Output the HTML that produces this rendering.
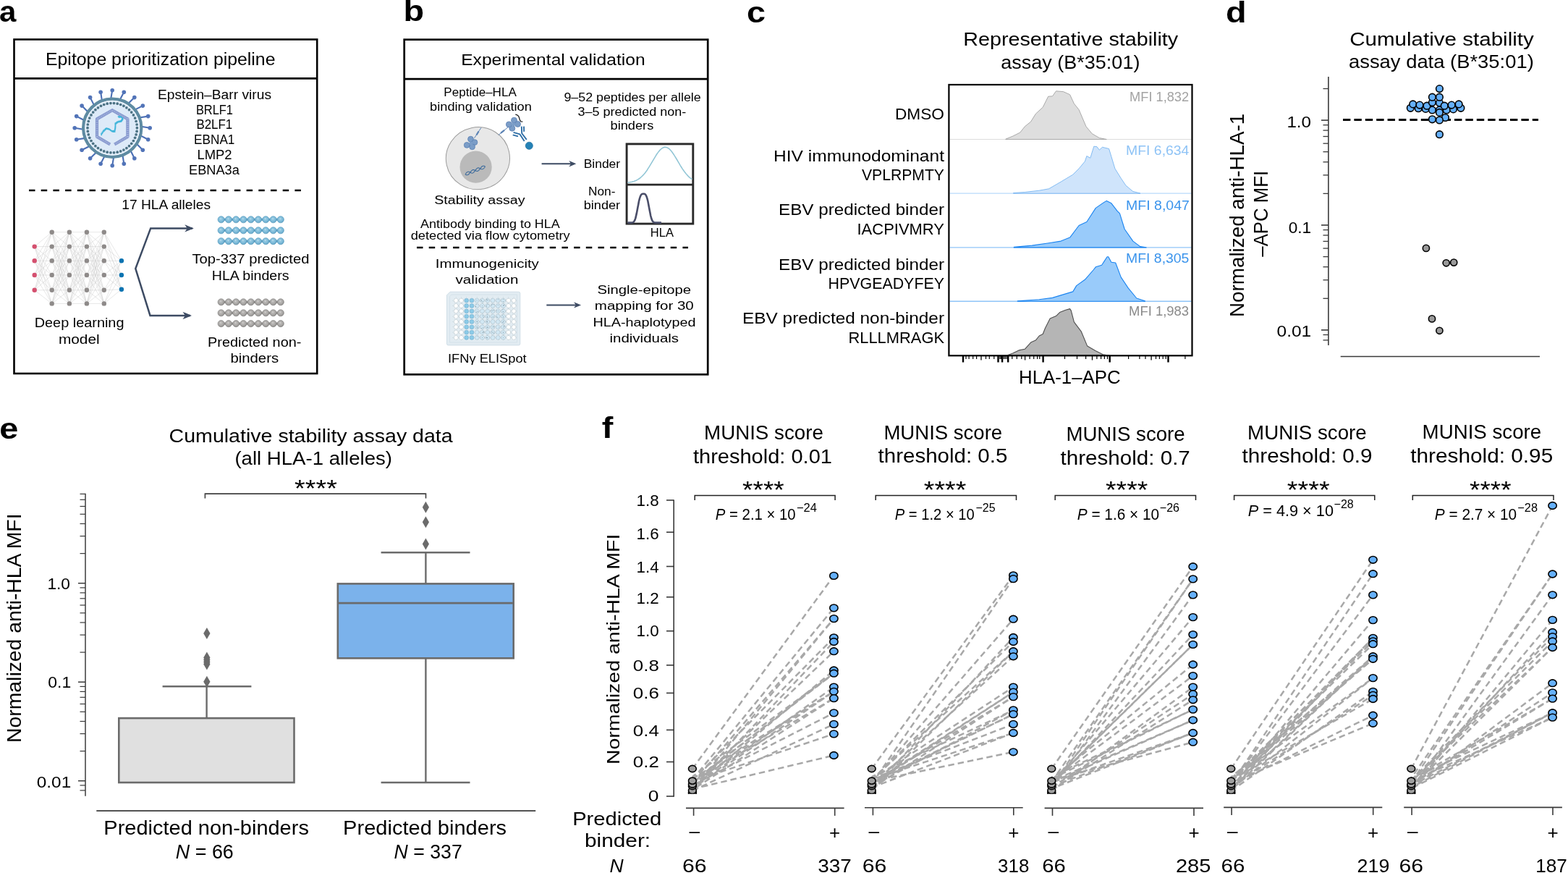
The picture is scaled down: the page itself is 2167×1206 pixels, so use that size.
<!DOCTYPE html>
<html><head><meta charset="utf-8"><title>Figure</title>
<style>
html,body{margin:0;padding:0;background:#fff;}
body{width:2167px;height:1206px;overflow:hidden;}
svg{display:block;}
svg text{font-family:'Liberation Sans', Arial, sans-serif;}
</style></head>
<body>
<svg width="2167" height="1206" viewBox="0 0 2167 1206">
<rect width="2167" height="1206" fill="#fff"/>
<text x="0" y="0" font-size="40" font-weight="bold" transform="translate(-1.0 29.5) scale(1.05 1)">a</text>
<rect x="19.5" y="54.5" width="418.7" height="461.5" fill="none" stroke="#000" stroke-width="2.6"/>
<line x1="19.5" y1="108.4" x2="438.2" y2="108.4" stroke="#000" stroke-width="2.8"/>
<text x="63.0" y="90.0" font-size="23.5" textLength="317.5" lengthAdjust="spacingAndGlyphs">Epitope prioritization pipeline</text>
<g>
<line x1="153.2" y1="136.7" x2="155.2" y2="124.7" stroke="#4b6fb5" stroke-width="2.1"/>
<circle cx="155.2" cy="124.7" r="2.8" fill="#5274b8"/>
<line x1="165.6" y1="138.1" x2="171.3" y2="127.2" stroke="#4b6fb5" stroke-width="2.1"/>
<circle cx="171.3" cy="127.2" r="2.8" fill="#5274b8"/>
<line x1="177.1" y1="143.2" x2="185.8" y2="134.6" stroke="#4b6fb5" stroke-width="2.1"/>
<circle cx="185.8" cy="134.6" r="2.8" fill="#5274b8"/>
<line x1="186.3" y1="151.6" x2="197.3" y2="146.1" stroke="#4b6fb5" stroke-width="2.1"/>
<circle cx="197.3" cy="146.1" r="2.8" fill="#5274b8"/>
<line x1="192.6" y1="162.5" x2="204.7" y2="160.6" stroke="#4b6fb5" stroke-width="2.1"/>
<circle cx="204.7" cy="160.6" r="2.8" fill="#5274b8"/>
<line x1="195.2" y1="174.7" x2="207.2" y2="176.7" stroke="#4b6fb5" stroke-width="2.1"/>
<circle cx="207.2" cy="176.7" r="2.8" fill="#5274b8"/>
<line x1="193.8" y1="187.1" x2="204.7" y2="192.8" stroke="#4b6fb5" stroke-width="2.1"/>
<circle cx="204.7" cy="192.8" r="2.8" fill="#5274b8"/>
<line x1="188.7" y1="198.6" x2="197.3" y2="207.3" stroke="#4b6fb5" stroke-width="2.1"/>
<circle cx="197.3" cy="207.3" r="2.8" fill="#5274b8"/>
<line x1="180.3" y1="207.8" x2="185.8" y2="218.8" stroke="#4b6fb5" stroke-width="2.1"/>
<circle cx="185.8" cy="218.8" r="2.8" fill="#5274b8"/>
<line x1="169.4" y1="214.1" x2="171.3" y2="226.2" stroke="#4b6fb5" stroke-width="2.1"/>
<circle cx="171.3" cy="226.2" r="2.8" fill="#5274b8"/>
<line x1="157.2" y1="216.7" x2="155.2" y2="228.7" stroke="#4b6fb5" stroke-width="2.1"/>
<circle cx="155.2" cy="228.7" r="2.8" fill="#5274b8"/>
<line x1="144.8" y1="215.3" x2="139.1" y2="226.2" stroke="#4b6fb5" stroke-width="2.1"/>
<circle cx="139.1" cy="226.2" r="2.8" fill="#5274b8"/>
<line x1="133.3" y1="210.2" x2="124.6" y2="218.8" stroke="#4b6fb5" stroke-width="2.1"/>
<circle cx="124.6" cy="218.8" r="2.8" fill="#5274b8"/>
<line x1="124.1" y1="201.8" x2="113.1" y2="207.3" stroke="#4b6fb5" stroke-width="2.1"/>
<circle cx="113.1" cy="207.3" r="2.8" fill="#5274b8"/>
<line x1="117.8" y1="190.9" x2="105.7" y2="192.8" stroke="#4b6fb5" stroke-width="2.1"/>
<circle cx="105.7" cy="192.8" r="2.8" fill="#5274b8"/>
<line x1="115.2" y1="178.7" x2="103.2" y2="176.7" stroke="#4b6fb5" stroke-width="2.1"/>
<circle cx="103.2" cy="176.7" r="2.8" fill="#5274b8"/>
<line x1="116.6" y1="166.3" x2="105.7" y2="160.6" stroke="#4b6fb5" stroke-width="2.1"/>
<circle cx="105.7" cy="160.6" r="2.8" fill="#5274b8"/>
<line x1="121.7" y1="154.8" x2="113.1" y2="146.1" stroke="#4b6fb5" stroke-width="2.1"/>
<circle cx="113.1" cy="146.1" r="2.8" fill="#5274b8"/>
<line x1="130.1" y1="145.6" x2="124.6" y2="134.6" stroke="#4b6fb5" stroke-width="2.1"/>
<circle cx="124.6" cy="134.6" r="2.8" fill="#5274b8"/>
<line x1="141.0" y1="139.3" x2="139.1" y2="127.2" stroke="#4b6fb5" stroke-width="2.1"/>
<circle cx="139.1" cy="127.2" r="2.8" fill="#5274b8"/>
<circle cx="155.2" cy="176.7" r="40.0" fill="#ddeaf8" stroke="#5e8ba2" stroke-width="4.4"/>
<circle cx="155.2" cy="176.7" r="37.6" fill="none" stroke="#f4f8fc" stroke-width="1.0"/>
<circle cx="189.4" cy="176.7" r="1.85" fill="#4b7183"/>
<circle cx="189.1" cy="181.4" r="1.85" fill="#4b7183"/>
<circle cx="188.1" cy="185.9" r="1.85" fill="#4b7183"/>
<circle cx="186.6" cy="190.3" r="1.85" fill="#4b7183"/>
<circle cx="184.4" cy="194.5" r="1.85" fill="#4b7183"/>
<circle cx="181.7" cy="198.3" r="1.85" fill="#4b7183"/>
<circle cx="178.5" cy="201.7" r="1.85" fill="#4b7183"/>
<circle cx="174.9" cy="204.6" r="1.85" fill="#4b7183"/>
<circle cx="170.9" cy="207.1" r="1.85" fill="#4b7183"/>
<circle cx="166.7" cy="208.9" r="1.85" fill="#4b7183"/>
<circle cx="162.2" cy="210.2" r="1.85" fill="#4b7183"/>
<circle cx="157.5" cy="210.8" r="1.85" fill="#4b7183"/>
<circle cx="152.9" cy="210.8" r="1.85" fill="#4b7183"/>
<circle cx="148.2" cy="210.2" r="1.85" fill="#4b7183"/>
<circle cx="143.7" cy="208.9" r="1.85" fill="#4b7183"/>
<circle cx="139.5" cy="207.1" r="1.85" fill="#4b7183"/>
<circle cx="135.5" cy="204.6" r="1.85" fill="#4b7183"/>
<circle cx="131.9" cy="201.7" r="1.85" fill="#4b7183"/>
<circle cx="128.7" cy="198.3" r="1.85" fill="#4b7183"/>
<circle cx="126.0" cy="194.5" r="1.85" fill="#4b7183"/>
<circle cx="123.8" cy="190.3" r="1.85" fill="#4b7183"/>
<circle cx="122.3" cy="185.9" r="1.85" fill="#4b7183"/>
<circle cx="121.3" cy="181.4" r="1.85" fill="#4b7183"/>
<circle cx="121.0" cy="176.7" r="1.85" fill="#4b7183"/>
<circle cx="121.3" cy="172.0" r="1.85" fill="#4b7183"/>
<circle cx="122.3" cy="167.5" r="1.85" fill="#4b7183"/>
<circle cx="123.8" cy="163.1" r="1.85" fill="#4b7183"/>
<circle cx="126.0" cy="158.9" r="1.85" fill="#4b7183"/>
<circle cx="128.7" cy="155.1" r="1.85" fill="#4b7183"/>
<circle cx="131.9" cy="151.7" r="1.85" fill="#4b7183"/>
<circle cx="135.5" cy="148.8" r="1.85" fill="#4b7183"/>
<circle cx="139.5" cy="146.3" r="1.85" fill="#4b7183"/>
<circle cx="143.7" cy="144.5" r="1.85" fill="#4b7183"/>
<circle cx="148.2" cy="143.2" r="1.85" fill="#4b7183"/>
<circle cx="152.9" cy="142.6" r="1.85" fill="#4b7183"/>
<circle cx="157.5" cy="142.6" r="1.85" fill="#4b7183"/>
<circle cx="162.2" cy="143.2" r="1.85" fill="#4b7183"/>
<circle cx="166.7" cy="144.5" r="1.85" fill="#4b7183"/>
<circle cx="170.9" cy="146.3" r="1.85" fill="#4b7183"/>
<circle cx="174.9" cy="148.8" r="1.85" fill="#4b7183"/>
<circle cx="178.5" cy="151.7" r="1.85" fill="#4b7183"/>
<circle cx="181.7" cy="155.1" r="1.85" fill="#4b7183"/>
<circle cx="184.4" cy="158.9" r="1.85" fill="#4b7183"/>
<circle cx="186.6" cy="163.1" r="1.85" fill="#4b7183"/>
<circle cx="188.1" cy="167.5" r="1.85" fill="#4b7183"/>
<circle cx="189.1" cy="172.0" r="1.85" fill="#4b7183"/>
<path d="M152.2,199.5 L134.0,188.9 L134.0,164.4 L155.2,152.2 L176.4,164.4 L176.4,188.9 L158.2,199.5" fill="none" stroke="#7f92cb" stroke-width="4.2" stroke-linejoin="round"/>
<path d="M152.2,199.5 L134.0,188.9 L134.0,164.4 L155.2,152.2 L176.4,164.4 L176.4,188.9 L158.2,199.5" fill="none" stroke="#c9d3ee" stroke-width="2.6" stroke-dasharray="0.6 1.0" opacity="0.8"/>
<path d="M139.5,186.5 L140.3,186.6 L140.0,184.3 L140.8,184.5 L141.6,184.5 L141.3,182.3 L142.1,182.4 L142.9,182.4 L142.6,180.2 L143.5,180.6 L144.4,180.9 L144.1,178.9 L145.0,179.3 L145.9,179.6 L145.6,177.6 L146.5,178.0 L147.4,178.2 L147.1,176.8 L148.0,177.8 L148.9,178.6 L148.6,177.2 L149.6,178.2 L150.4,179.0 L150.1,177.5 L151.1,178.6 L151.9,179.6 L151.6,178.4 L152.6,179.8 L153.3,180.7 L153.1,179.5 L154.1,180.9 L154.8,181.8 L154.6,180.7 L155.5,181.7 L156.2,182.2 L155.9,180.6 L156.8,181.7 L157.5,182.2 L157.2,180.6 L158.2,181.7 L158.8,182.2 L158.2,180.0 L158.9,180.3 L159.2,180.1 L158.6,177.9 L159.2,178.3 L159.6,178.0 L158.9,175.8 L159.6,176.2 L159.8,176.0 L159.1,173.9 L159.6,174.4 L159.8,174.1 L159.1,172.0 L159.6,172.5 L159.8,172.2 L159.1,170.1 L160.1,171.0 L160.7,171.0 L160.4,169.2 L161.4,170.0 L162.0,170.0 L161.7,168.2 L162.7,169.1 L163.3,169.1 L163.1,167.5 L164.3,168.6 L165.0,168.7 L164.8,167.1 L166.0,168.2 L166.6,168.3 L166.5,166.7 L167.7,167.9 L168.1,167.6 L167.7,165.7 L168.6,166.6 L169.0,166.3 L168.6,164.4 L169.6,165.3 L169.9,164.9 L169.6,163.1 L169.8,164.1 L169.5,163.9 L168.4,162.2 L168.7,163.2 L168.4,162.9 L167.3,161.2 L167.6,162.2 L167.2,162.0 L166.1,160.6 L166.3,162.0 L165.9,162.1 L164.8,160.8 L165.0,162.1 L164.6,162.2 L163.5,160.9 L163.5,161.8" fill="none" stroke="#41b5da" stroke-width="1.5" stroke-linejoin="round"/>
</g>
<text x="218.0" y="136.9" font-size="18" textLength="157.0" lengthAdjust="spacingAndGlyphs">Epstein–Barr virus</text>
<text x="270.9" y="157.5" font-size="18" textLength="51.1" lengthAdjust="spacingAndGlyphs">BRLF1</text>
<text x="271.4" y="177.9" font-size="18" textLength="49.9" lengthAdjust="spacingAndGlyphs">B2LF1</text>
<text x="268.1" y="198.6" font-size="18" textLength="56.3" lengthAdjust="spacingAndGlyphs">EBNA1</text>
<text x="272.4" y="219.8" font-size="18" textLength="48.2" lengthAdjust="spacingAndGlyphs">LMP2</text>
<text x="261.0" y="240.5" font-size="18" textLength="69.8" lengthAdjust="spacingAndGlyphs">EBNA3a</text>
<line x1="40.0" y1="263.0" x2="416.0" y2="263.0" stroke="#000" stroke-width="2.5" stroke-dasharray="8.5 8.2"/>
<text x="168.3" y="288.7" font-size="18" textLength="122.8" lengthAdjust="spacingAndGlyphs">17 HLA alleles</text>
<g stroke="#c9c9c9" stroke-width="0.45">
<line x1="47.7" y1="340.6" x2="71.7" y2="320.7"/>
<line x1="47.7" y1="340.6" x2="71.7" y2="340.6"/>
<line x1="47.7" y1="340.6" x2="71.7" y2="360.3"/>
<line x1="47.7" y1="340.6" x2="71.7" y2="380.0"/>
<line x1="47.7" y1="340.6" x2="71.7" y2="400.8"/>
<line x1="47.7" y1="340.6" x2="71.7" y2="419.4"/>
<line x1="47.7" y1="360.3" x2="71.7" y2="320.7"/>
<line x1="47.7" y1="360.3" x2="71.7" y2="340.6"/>
<line x1="47.7" y1="360.3" x2="71.7" y2="360.3"/>
<line x1="47.7" y1="360.3" x2="71.7" y2="380.0"/>
<line x1="47.7" y1="360.3" x2="71.7" y2="400.8"/>
<line x1="47.7" y1="360.3" x2="71.7" y2="419.4"/>
<line x1="47.7" y1="380.0" x2="71.7" y2="320.7"/>
<line x1="47.7" y1="380.0" x2="71.7" y2="340.6"/>
<line x1="47.7" y1="380.0" x2="71.7" y2="360.3"/>
<line x1="47.7" y1="380.0" x2="71.7" y2="380.0"/>
<line x1="47.7" y1="380.0" x2="71.7" y2="400.8"/>
<line x1="47.7" y1="380.0" x2="71.7" y2="419.4"/>
<line x1="47.7" y1="400.8" x2="71.7" y2="320.7"/>
<line x1="47.7" y1="400.8" x2="71.7" y2="340.6"/>
<line x1="47.7" y1="400.8" x2="71.7" y2="360.3"/>
<line x1="47.7" y1="400.8" x2="71.7" y2="380.0"/>
<line x1="47.7" y1="400.8" x2="71.7" y2="400.8"/>
<line x1="47.7" y1="400.8" x2="71.7" y2="419.4"/>
<line x1="71.7" y1="320.7" x2="95.9" y2="320.7"/>
<line x1="71.7" y1="320.7" x2="95.9" y2="340.6"/>
<line x1="71.7" y1="320.7" x2="95.9" y2="360.3"/>
<line x1="71.7" y1="320.7" x2="95.9" y2="380.0"/>
<line x1="71.7" y1="320.7" x2="95.9" y2="400.8"/>
<line x1="71.7" y1="320.7" x2="95.9" y2="419.4"/>
<line x1="71.7" y1="340.6" x2="95.9" y2="320.7"/>
<line x1="71.7" y1="340.6" x2="95.9" y2="340.6"/>
<line x1="71.7" y1="340.6" x2="95.9" y2="360.3"/>
<line x1="71.7" y1="340.6" x2="95.9" y2="380.0"/>
<line x1="71.7" y1="340.6" x2="95.9" y2="400.8"/>
<line x1="71.7" y1="340.6" x2="95.9" y2="419.4"/>
<line x1="71.7" y1="360.3" x2="95.9" y2="320.7"/>
<line x1="71.7" y1="360.3" x2="95.9" y2="340.6"/>
<line x1="71.7" y1="360.3" x2="95.9" y2="360.3"/>
<line x1="71.7" y1="360.3" x2="95.9" y2="380.0"/>
<line x1="71.7" y1="360.3" x2="95.9" y2="400.8"/>
<line x1="71.7" y1="360.3" x2="95.9" y2="419.4"/>
<line x1="71.7" y1="380.0" x2="95.9" y2="320.7"/>
<line x1="71.7" y1="380.0" x2="95.9" y2="340.6"/>
<line x1="71.7" y1="380.0" x2="95.9" y2="360.3"/>
<line x1="71.7" y1="380.0" x2="95.9" y2="380.0"/>
<line x1="71.7" y1="380.0" x2="95.9" y2="400.8"/>
<line x1="71.7" y1="380.0" x2="95.9" y2="419.4"/>
<line x1="71.7" y1="400.8" x2="95.9" y2="320.7"/>
<line x1="71.7" y1="400.8" x2="95.9" y2="340.6"/>
<line x1="71.7" y1="400.8" x2="95.9" y2="360.3"/>
<line x1="71.7" y1="400.8" x2="95.9" y2="380.0"/>
<line x1="71.7" y1="400.8" x2="95.9" y2="400.8"/>
<line x1="71.7" y1="400.8" x2="95.9" y2="419.4"/>
<line x1="71.7" y1="419.4" x2="95.9" y2="320.7"/>
<line x1="71.7" y1="419.4" x2="95.9" y2="340.6"/>
<line x1="71.7" y1="419.4" x2="95.9" y2="360.3"/>
<line x1="71.7" y1="419.4" x2="95.9" y2="380.0"/>
<line x1="71.7" y1="419.4" x2="95.9" y2="400.8"/>
<line x1="71.7" y1="419.4" x2="95.9" y2="419.4"/>
<line x1="95.9" y1="320.7" x2="119.9" y2="320.7"/>
<line x1="95.9" y1="320.7" x2="119.9" y2="340.6"/>
<line x1="95.9" y1="320.7" x2="119.9" y2="360.3"/>
<line x1="95.9" y1="320.7" x2="119.9" y2="380.0"/>
<line x1="95.9" y1="320.7" x2="119.9" y2="400.8"/>
<line x1="95.9" y1="320.7" x2="119.9" y2="419.4"/>
<line x1="95.9" y1="340.6" x2="119.9" y2="320.7"/>
<line x1="95.9" y1="340.6" x2="119.9" y2="340.6"/>
<line x1="95.9" y1="340.6" x2="119.9" y2="360.3"/>
<line x1="95.9" y1="340.6" x2="119.9" y2="380.0"/>
<line x1="95.9" y1="340.6" x2="119.9" y2="400.8"/>
<line x1="95.9" y1="340.6" x2="119.9" y2="419.4"/>
<line x1="95.9" y1="360.3" x2="119.9" y2="320.7"/>
<line x1="95.9" y1="360.3" x2="119.9" y2="340.6"/>
<line x1="95.9" y1="360.3" x2="119.9" y2="360.3"/>
<line x1="95.9" y1="360.3" x2="119.9" y2="380.0"/>
<line x1="95.9" y1="360.3" x2="119.9" y2="400.8"/>
<line x1="95.9" y1="360.3" x2="119.9" y2="419.4"/>
<line x1="95.9" y1="380.0" x2="119.9" y2="320.7"/>
<line x1="95.9" y1="380.0" x2="119.9" y2="340.6"/>
<line x1="95.9" y1="380.0" x2="119.9" y2="360.3"/>
<line x1="95.9" y1="380.0" x2="119.9" y2="380.0"/>
<line x1="95.9" y1="380.0" x2="119.9" y2="400.8"/>
<line x1="95.9" y1="380.0" x2="119.9" y2="419.4"/>
<line x1="95.9" y1="400.8" x2="119.9" y2="320.7"/>
<line x1="95.9" y1="400.8" x2="119.9" y2="340.6"/>
<line x1="95.9" y1="400.8" x2="119.9" y2="360.3"/>
<line x1="95.9" y1="400.8" x2="119.9" y2="380.0"/>
<line x1="95.9" y1="400.8" x2="119.9" y2="400.8"/>
<line x1="95.9" y1="400.8" x2="119.9" y2="419.4"/>
<line x1="95.9" y1="419.4" x2="119.9" y2="320.7"/>
<line x1="95.9" y1="419.4" x2="119.9" y2="340.6"/>
<line x1="95.9" y1="419.4" x2="119.9" y2="360.3"/>
<line x1="95.9" y1="419.4" x2="119.9" y2="380.0"/>
<line x1="95.9" y1="419.4" x2="119.9" y2="400.8"/>
<line x1="95.9" y1="419.4" x2="119.9" y2="419.4"/>
<line x1="119.9" y1="320.7" x2="143.8" y2="320.7"/>
<line x1="119.9" y1="320.7" x2="143.8" y2="340.6"/>
<line x1="119.9" y1="320.7" x2="143.8" y2="360.3"/>
<line x1="119.9" y1="320.7" x2="143.8" y2="380.0"/>
<line x1="119.9" y1="320.7" x2="143.8" y2="400.8"/>
<line x1="119.9" y1="320.7" x2="143.8" y2="419.4"/>
<line x1="119.9" y1="340.6" x2="143.8" y2="320.7"/>
<line x1="119.9" y1="340.6" x2="143.8" y2="340.6"/>
<line x1="119.9" y1="340.6" x2="143.8" y2="360.3"/>
<line x1="119.9" y1="340.6" x2="143.8" y2="380.0"/>
<line x1="119.9" y1="340.6" x2="143.8" y2="400.8"/>
<line x1="119.9" y1="340.6" x2="143.8" y2="419.4"/>
<line x1="119.9" y1="360.3" x2="143.8" y2="320.7"/>
<line x1="119.9" y1="360.3" x2="143.8" y2="340.6"/>
<line x1="119.9" y1="360.3" x2="143.8" y2="360.3"/>
<line x1="119.9" y1="360.3" x2="143.8" y2="380.0"/>
<line x1="119.9" y1="360.3" x2="143.8" y2="400.8"/>
<line x1="119.9" y1="360.3" x2="143.8" y2="419.4"/>
<line x1="119.9" y1="380.0" x2="143.8" y2="320.7"/>
<line x1="119.9" y1="380.0" x2="143.8" y2="340.6"/>
<line x1="119.9" y1="380.0" x2="143.8" y2="360.3"/>
<line x1="119.9" y1="380.0" x2="143.8" y2="380.0"/>
<line x1="119.9" y1="380.0" x2="143.8" y2="400.8"/>
<line x1="119.9" y1="380.0" x2="143.8" y2="419.4"/>
<line x1="119.9" y1="400.8" x2="143.8" y2="320.7"/>
<line x1="119.9" y1="400.8" x2="143.8" y2="340.6"/>
<line x1="119.9" y1="400.8" x2="143.8" y2="360.3"/>
<line x1="119.9" y1="400.8" x2="143.8" y2="380.0"/>
<line x1="119.9" y1="400.8" x2="143.8" y2="400.8"/>
<line x1="119.9" y1="400.8" x2="143.8" y2="419.4"/>
<line x1="119.9" y1="419.4" x2="143.8" y2="320.7"/>
<line x1="119.9" y1="419.4" x2="143.8" y2="340.6"/>
<line x1="119.9" y1="419.4" x2="143.8" y2="360.3"/>
<line x1="119.9" y1="419.4" x2="143.8" y2="380.0"/>
<line x1="119.9" y1="419.4" x2="143.8" y2="400.8"/>
<line x1="119.9" y1="419.4" x2="143.8" y2="419.4"/>
<line x1="143.8" y1="320.7" x2="167.9" y2="360.3"/>
<line x1="143.8" y1="320.7" x2="167.9" y2="380.0"/>
<line x1="143.8" y1="320.7" x2="167.9" y2="399.7"/>
<line x1="143.8" y1="340.6" x2="167.9" y2="360.3"/>
<line x1="143.8" y1="340.6" x2="167.9" y2="380.0"/>
<line x1="143.8" y1="340.6" x2="167.9" y2="399.7"/>
<line x1="143.8" y1="360.3" x2="167.9" y2="360.3"/>
<line x1="143.8" y1="360.3" x2="167.9" y2="380.0"/>
<line x1="143.8" y1="360.3" x2="167.9" y2="399.7"/>
<line x1="143.8" y1="380.0" x2="167.9" y2="360.3"/>
<line x1="143.8" y1="380.0" x2="167.9" y2="380.0"/>
<line x1="143.8" y1="380.0" x2="167.9" y2="399.7"/>
<line x1="143.8" y1="400.8" x2="167.9" y2="360.3"/>
<line x1="143.8" y1="400.8" x2="167.9" y2="380.0"/>
<line x1="143.8" y1="400.8" x2="167.9" y2="399.7"/>
<line x1="143.8" y1="419.4" x2="167.9" y2="360.3"/>
<line x1="143.8" y1="419.4" x2="167.9" y2="380.0"/>
<line x1="143.8" y1="419.4" x2="167.9" y2="399.7"/>
</g>
<circle cx="47.7" cy="340.6" r="3.2" fill="#d4506f"/>
<circle cx="47.7" cy="360.3" r="3.2" fill="#d4506f"/>
<circle cx="47.7" cy="380.0" r="3.2" fill="#d4506f"/>
<circle cx="47.7" cy="400.8" r="3.2" fill="#d4506f"/>
<circle cx="71.7" cy="320.7" r="3.2" fill="#8e8a89"/>
<circle cx="71.7" cy="340.6" r="3.2" fill="#8e8a89"/>
<circle cx="71.7" cy="360.3" r="3.2" fill="#8e8a89"/>
<circle cx="71.7" cy="380.0" r="3.2" fill="#8e8a89"/>
<circle cx="71.7" cy="400.8" r="3.2" fill="#8e8a89"/>
<circle cx="71.7" cy="419.4" r="3.2" fill="#8e8a89"/>
<circle cx="95.9" cy="320.7" r="3.2" fill="#8e8a89"/>
<circle cx="95.9" cy="340.6" r="3.2" fill="#8e8a89"/>
<circle cx="95.9" cy="360.3" r="3.2" fill="#8e8a89"/>
<circle cx="95.9" cy="380.0" r="3.2" fill="#8e8a89"/>
<circle cx="95.9" cy="400.8" r="3.2" fill="#8e8a89"/>
<circle cx="95.9" cy="419.4" r="3.2" fill="#8e8a89"/>
<circle cx="119.9" cy="320.7" r="3.2" fill="#8e8a89"/>
<circle cx="119.9" cy="340.6" r="3.2" fill="#8e8a89"/>
<circle cx="119.9" cy="360.3" r="3.2" fill="#8e8a89"/>
<circle cx="119.9" cy="380.0" r="3.2" fill="#8e8a89"/>
<circle cx="119.9" cy="400.8" r="3.2" fill="#8e8a89"/>
<circle cx="119.9" cy="419.4" r="3.2" fill="#8e8a89"/>
<circle cx="143.8" cy="320.7" r="3.2" fill="#8e8a89"/>
<circle cx="143.8" cy="340.6" r="3.2" fill="#8e8a89"/>
<circle cx="143.8" cy="360.3" r="3.2" fill="#8e8a89"/>
<circle cx="143.8" cy="380.0" r="3.2" fill="#8e8a89"/>
<circle cx="143.8" cy="400.8" r="3.2" fill="#8e8a89"/>
<circle cx="143.8" cy="419.4" r="3.2" fill="#8e8a89"/>
<circle cx="167.9" cy="360.3" r="3.2" fill="#0a73b1"/>
<circle cx="167.9" cy="380.0" r="3.2" fill="#0a73b1"/>
<circle cx="167.9" cy="399.7" r="3.2" fill="#0a73b1"/>
<path d="M266,315.4 L208.2,315.4 L187.3,371 L207.5,435.9 L263,435.9" fill="none" stroke="#3d4b63" stroke-width="2.5" stroke-linejoin="miter"/>
<path d="M267.8,315.4 L255.3,310.2 L258.8,315.4 L255.3,320.6 Z" fill="#3d4b63"/>
<path d="M265.0,435.9 L252.5,430.7 L256.0,435.9 L252.5,441.1 Z" fill="#3d4b63"/>
<defs><radialGradient id="gb" cx="0.45" cy="0.4" r="0.6"><stop offset="0" stop-color="#9fd0e6"/><stop offset="0.7" stop-color="#79b8d7"/><stop offset="1" stop-color="#5c9fc2"/></radialGradient><radialGradient id="gg" cx="0.45" cy="0.4" r="0.6"><stop offset="0" stop-color="#c4c2c0"/><stop offset="0.7" stop-color="#a6a4a2"/><stop offset="1" stop-color="#868482"/></radialGradient></defs>
<rect x="305.6" y="301.7" width="82.2" height="3.2" fill="#5c9dc0"/>
<circle cx="305.6" cy="303.3" r="4.55" fill="url(#gb)" stroke="#5c9dc0" stroke-width="0.7"/>
<circle cx="305.0" cy="302.0" r="0.55" fill="#ffffff" opacity="0.75"/>
<circle cx="315.9" cy="303.3" r="4.55" fill="url(#gb)" stroke="#5c9dc0" stroke-width="0.7"/>
<circle cx="315.3" cy="302.0" r="0.55" fill="#ffffff" opacity="0.75"/>
<circle cx="326.2" cy="303.3" r="4.55" fill="url(#gb)" stroke="#5c9dc0" stroke-width="0.7"/>
<circle cx="325.6" cy="302.0" r="0.55" fill="#ffffff" opacity="0.75"/>
<circle cx="336.4" cy="303.3" r="4.55" fill="url(#gb)" stroke="#5c9dc0" stroke-width="0.7"/>
<circle cx="335.8" cy="302.0" r="0.55" fill="#ffffff" opacity="0.75"/>
<circle cx="346.7" cy="303.3" r="4.55" fill="url(#gb)" stroke="#5c9dc0" stroke-width="0.7"/>
<circle cx="346.1" cy="302.0" r="0.55" fill="#ffffff" opacity="0.75"/>
<circle cx="357.0" cy="303.3" r="4.55" fill="url(#gb)" stroke="#5c9dc0" stroke-width="0.7"/>
<circle cx="356.4" cy="302.0" r="0.55" fill="#ffffff" opacity="0.75"/>
<circle cx="367.3" cy="303.3" r="4.55" fill="url(#gb)" stroke="#5c9dc0" stroke-width="0.7"/>
<circle cx="366.7" cy="302.0" r="0.55" fill="#ffffff" opacity="0.75"/>
<circle cx="377.6" cy="303.3" r="4.55" fill="url(#gb)" stroke="#5c9dc0" stroke-width="0.7"/>
<circle cx="377.0" cy="302.0" r="0.55" fill="#ffffff" opacity="0.75"/>
<circle cx="387.8" cy="303.3" r="4.55" fill="url(#gb)" stroke="#5c9dc0" stroke-width="0.7"/>
<circle cx="387.2" cy="302.0" r="0.55" fill="#ffffff" opacity="0.75"/>
<rect x="305.6" y="316.7" width="82.2" height="3.2" fill="#5c9dc0"/>
<circle cx="305.6" cy="318.3" r="4.55" fill="url(#gb)" stroke="#5c9dc0" stroke-width="0.7"/>
<circle cx="305.0" cy="317.0" r="0.55" fill="#ffffff" opacity="0.75"/>
<circle cx="315.9" cy="318.3" r="4.55" fill="url(#gb)" stroke="#5c9dc0" stroke-width="0.7"/>
<circle cx="315.3" cy="317.0" r="0.55" fill="#ffffff" opacity="0.75"/>
<circle cx="326.2" cy="318.3" r="4.55" fill="url(#gb)" stroke="#5c9dc0" stroke-width="0.7"/>
<circle cx="325.6" cy="317.0" r="0.55" fill="#ffffff" opacity="0.75"/>
<circle cx="336.4" cy="318.3" r="4.55" fill="url(#gb)" stroke="#5c9dc0" stroke-width="0.7"/>
<circle cx="335.8" cy="317.0" r="0.55" fill="#ffffff" opacity="0.75"/>
<circle cx="346.7" cy="318.3" r="4.55" fill="url(#gb)" stroke="#5c9dc0" stroke-width="0.7"/>
<circle cx="346.1" cy="317.0" r="0.55" fill="#ffffff" opacity="0.75"/>
<circle cx="357.0" cy="318.3" r="4.55" fill="url(#gb)" stroke="#5c9dc0" stroke-width="0.7"/>
<circle cx="356.4" cy="317.0" r="0.55" fill="#ffffff" opacity="0.75"/>
<circle cx="367.3" cy="318.3" r="4.55" fill="url(#gb)" stroke="#5c9dc0" stroke-width="0.7"/>
<circle cx="366.7" cy="317.0" r="0.55" fill="#ffffff" opacity="0.75"/>
<circle cx="377.6" cy="318.3" r="4.55" fill="url(#gb)" stroke="#5c9dc0" stroke-width="0.7"/>
<circle cx="377.0" cy="317.0" r="0.55" fill="#ffffff" opacity="0.75"/>
<circle cx="387.8" cy="318.3" r="4.55" fill="url(#gb)" stroke="#5c9dc0" stroke-width="0.7"/>
<circle cx="387.2" cy="317.0" r="0.55" fill="#ffffff" opacity="0.75"/>
<rect x="305.6" y="331.6" width="82.2" height="3.2" fill="#5c9dc0"/>
<circle cx="305.6" cy="333.2" r="4.55" fill="url(#gb)" stroke="#5c9dc0" stroke-width="0.7"/>
<circle cx="305.0" cy="331.9" r="0.55" fill="#ffffff" opacity="0.75"/>
<circle cx="315.9" cy="333.2" r="4.55" fill="url(#gb)" stroke="#5c9dc0" stroke-width="0.7"/>
<circle cx="315.3" cy="331.9" r="0.55" fill="#ffffff" opacity="0.75"/>
<circle cx="326.2" cy="333.2" r="4.55" fill="url(#gb)" stroke="#5c9dc0" stroke-width="0.7"/>
<circle cx="325.6" cy="331.9" r="0.55" fill="#ffffff" opacity="0.75"/>
<circle cx="336.4" cy="333.2" r="4.55" fill="url(#gb)" stroke="#5c9dc0" stroke-width="0.7"/>
<circle cx="335.8" cy="331.9" r="0.55" fill="#ffffff" opacity="0.75"/>
<circle cx="346.7" cy="333.2" r="4.55" fill="url(#gb)" stroke="#5c9dc0" stroke-width="0.7"/>
<circle cx="346.1" cy="331.9" r="0.55" fill="#ffffff" opacity="0.75"/>
<circle cx="357.0" cy="333.2" r="4.55" fill="url(#gb)" stroke="#5c9dc0" stroke-width="0.7"/>
<circle cx="356.4" cy="331.9" r="0.55" fill="#ffffff" opacity="0.75"/>
<circle cx="367.3" cy="333.2" r="4.55" fill="url(#gb)" stroke="#5c9dc0" stroke-width="0.7"/>
<circle cx="366.7" cy="331.9" r="0.55" fill="#ffffff" opacity="0.75"/>
<circle cx="377.6" cy="333.2" r="4.55" fill="url(#gb)" stroke="#5c9dc0" stroke-width="0.7"/>
<circle cx="377.0" cy="331.9" r="0.55" fill="#ffffff" opacity="0.75"/>
<circle cx="387.8" cy="333.2" r="4.55" fill="url(#gb)" stroke="#5c9dc0" stroke-width="0.7"/>
<circle cx="387.2" cy="331.9" r="0.55" fill="#ffffff" opacity="0.75"/>
<rect x="305.6" y="415.7" width="82.2" height="3.2" fill="#8a8886"/>
<circle cx="305.6" cy="417.3" r="4.55" fill="url(#gg)" stroke="#8a8886" stroke-width="0.7"/>
<circle cx="305.0" cy="416.0" r="0.55" fill="#ffffff" opacity="0.75"/>
<circle cx="315.9" cy="417.3" r="4.55" fill="url(#gg)" stroke="#8a8886" stroke-width="0.7"/>
<circle cx="315.3" cy="416.0" r="0.55" fill="#ffffff" opacity="0.75"/>
<circle cx="326.2" cy="417.3" r="4.55" fill="url(#gg)" stroke="#8a8886" stroke-width="0.7"/>
<circle cx="325.6" cy="416.0" r="0.55" fill="#ffffff" opacity="0.75"/>
<circle cx="336.4" cy="417.3" r="4.55" fill="url(#gg)" stroke="#8a8886" stroke-width="0.7"/>
<circle cx="335.8" cy="416.0" r="0.55" fill="#ffffff" opacity="0.75"/>
<circle cx="346.7" cy="417.3" r="4.55" fill="url(#gg)" stroke="#8a8886" stroke-width="0.7"/>
<circle cx="346.1" cy="416.0" r="0.55" fill="#ffffff" opacity="0.75"/>
<circle cx="357.0" cy="417.3" r="4.55" fill="url(#gg)" stroke="#8a8886" stroke-width="0.7"/>
<circle cx="356.4" cy="416.0" r="0.55" fill="#ffffff" opacity="0.75"/>
<circle cx="367.3" cy="417.3" r="4.55" fill="url(#gg)" stroke="#8a8886" stroke-width="0.7"/>
<circle cx="366.7" cy="416.0" r="0.55" fill="#ffffff" opacity="0.75"/>
<circle cx="377.6" cy="417.3" r="4.55" fill="url(#gg)" stroke="#8a8886" stroke-width="0.7"/>
<circle cx="377.0" cy="416.0" r="0.55" fill="#ffffff" opacity="0.75"/>
<circle cx="387.8" cy="417.3" r="4.55" fill="url(#gg)" stroke="#8a8886" stroke-width="0.7"/>
<circle cx="387.2" cy="416.0" r="0.55" fill="#ffffff" opacity="0.75"/>
<rect x="305.6" y="430.7" width="82.2" height="3.2" fill="#8a8886"/>
<circle cx="305.6" cy="432.3" r="4.55" fill="url(#gg)" stroke="#8a8886" stroke-width="0.7"/>
<circle cx="305.0" cy="431.0" r="0.55" fill="#ffffff" opacity="0.75"/>
<circle cx="315.9" cy="432.3" r="4.55" fill="url(#gg)" stroke="#8a8886" stroke-width="0.7"/>
<circle cx="315.3" cy="431.0" r="0.55" fill="#ffffff" opacity="0.75"/>
<circle cx="326.2" cy="432.3" r="4.55" fill="url(#gg)" stroke="#8a8886" stroke-width="0.7"/>
<circle cx="325.6" cy="431.0" r="0.55" fill="#ffffff" opacity="0.75"/>
<circle cx="336.4" cy="432.3" r="4.55" fill="url(#gg)" stroke="#8a8886" stroke-width="0.7"/>
<circle cx="335.8" cy="431.0" r="0.55" fill="#ffffff" opacity="0.75"/>
<circle cx="346.7" cy="432.3" r="4.55" fill="url(#gg)" stroke="#8a8886" stroke-width="0.7"/>
<circle cx="346.1" cy="431.0" r="0.55" fill="#ffffff" opacity="0.75"/>
<circle cx="357.0" cy="432.3" r="4.55" fill="url(#gg)" stroke="#8a8886" stroke-width="0.7"/>
<circle cx="356.4" cy="431.0" r="0.55" fill="#ffffff" opacity="0.75"/>
<circle cx="367.3" cy="432.3" r="4.55" fill="url(#gg)" stroke="#8a8886" stroke-width="0.7"/>
<circle cx="366.7" cy="431.0" r="0.55" fill="#ffffff" opacity="0.75"/>
<circle cx="377.6" cy="432.3" r="4.55" fill="url(#gg)" stroke="#8a8886" stroke-width="0.7"/>
<circle cx="377.0" cy="431.0" r="0.55" fill="#ffffff" opacity="0.75"/>
<circle cx="387.8" cy="432.3" r="4.55" fill="url(#gg)" stroke="#8a8886" stroke-width="0.7"/>
<circle cx="387.2" cy="431.0" r="0.55" fill="#ffffff" opacity="0.75"/>
<rect x="305.6" y="445.5" width="82.2" height="3.2" fill="#8a8886"/>
<circle cx="305.6" cy="447.1" r="4.55" fill="url(#gg)" stroke="#8a8886" stroke-width="0.7"/>
<circle cx="305.0" cy="445.8" r="0.55" fill="#ffffff" opacity="0.75"/>
<circle cx="315.9" cy="447.1" r="4.55" fill="url(#gg)" stroke="#8a8886" stroke-width="0.7"/>
<circle cx="315.3" cy="445.8" r="0.55" fill="#ffffff" opacity="0.75"/>
<circle cx="326.2" cy="447.1" r="4.55" fill="url(#gg)" stroke="#8a8886" stroke-width="0.7"/>
<circle cx="325.6" cy="445.8" r="0.55" fill="#ffffff" opacity="0.75"/>
<circle cx="336.4" cy="447.1" r="4.55" fill="url(#gg)" stroke="#8a8886" stroke-width="0.7"/>
<circle cx="335.8" cy="445.8" r="0.55" fill="#ffffff" opacity="0.75"/>
<circle cx="346.7" cy="447.1" r="4.55" fill="url(#gg)" stroke="#8a8886" stroke-width="0.7"/>
<circle cx="346.1" cy="445.8" r="0.55" fill="#ffffff" opacity="0.75"/>
<circle cx="357.0" cy="447.1" r="4.55" fill="url(#gg)" stroke="#8a8886" stroke-width="0.7"/>
<circle cx="356.4" cy="445.8" r="0.55" fill="#ffffff" opacity="0.75"/>
<circle cx="367.3" cy="447.1" r="4.55" fill="url(#gg)" stroke="#8a8886" stroke-width="0.7"/>
<circle cx="366.7" cy="445.8" r="0.55" fill="#ffffff" opacity="0.75"/>
<circle cx="377.6" cy="447.1" r="4.55" fill="url(#gg)" stroke="#8a8886" stroke-width="0.7"/>
<circle cx="377.0" cy="445.8" r="0.55" fill="#ffffff" opacity="0.75"/>
<circle cx="387.8" cy="447.1" r="4.55" fill="url(#gg)" stroke="#8a8886" stroke-width="0.7"/>
<circle cx="387.2" cy="445.8" r="0.55" fill="#ffffff" opacity="0.75"/>
<text x="265.5" y="364.2" font-size="18" textLength="161.9" lengthAdjust="spacingAndGlyphs">Top-337 predicted</text>
<text x="292.8" y="387.1" font-size="18" textLength="106.7" lengthAdjust="spacingAndGlyphs">HLA binders</text>
<text x="47.7" y="452.2" font-size="18" textLength="123.8" lengthAdjust="spacingAndGlyphs">Deep learning</text>
<text x="80.9" y="474.9" font-size="18" textLength="56.8" lengthAdjust="spacingAndGlyphs">model</text>
<text x="287.1" y="478.9" font-size="18" textLength="129.3" lengthAdjust="spacingAndGlyphs">Predicted non-</text>
<text x="318.4" y="500.7" font-size="18" textLength="66.7" lengthAdjust="spacingAndGlyphs">binders</text>
<text x="0" y="0" font-size="40" font-weight="bold" transform="translate(557.5 29.2) scale(1.17 1)">b</text>
<rect x="558.7" y="54.7" width="419.5" height="462.6" fill="none" stroke="#000" stroke-width="2.7"/>
<line x1="558.7" y1="109.1" x2="978.2" y2="109.1" stroke="#000" stroke-width="2.7"/>
<text x="637.2" y="90.1" font-size="22.7" textLength="254.4" lengthAdjust="spacingAndGlyphs">Experimental validation</text>
<text x="613.3" y="132.8" font-size="16" textLength="100.5" lengthAdjust="spacingAndGlyphs">Peptide–HLA</text>
<text x="594.1" y="152.7" font-size="16" textLength="140.8" lengthAdjust="spacingAndGlyphs">binding validation</text>
<text x="779.4" y="139.9" font-size="16" textLength="189.3" lengthAdjust="spacingAndGlyphs">9–52 peptides per allele</text>
<text x="798.5" y="159.6" font-size="16" textLength="149.8" lengthAdjust="spacingAndGlyphs">3–5 predicted non-</text>
<text x="843.5" y="179.0" font-size="16" textLength="59.8" lengthAdjust="spacingAndGlyphs">binders</text>
<ellipse cx="660.4" cy="218.7" rx="44.1" ry="43" fill="#e8e8e8" stroke="#9b9b9b" stroke-width="1" transform="rotate(-12 660.4 218.7)"/>
<circle cx="657.6" cy="230.7" r="22.1" fill="#bababa"/>
<path d="M643.0,240.8 L643.9,241.4 L644.9,241.7 L645.8,241.8 L646.8,241.5 L647.7,240.8 L648.7,239.7 L649.6,238.5 L650.6,237.2 L651.5,236.0 L652.5,235.1 L653.4,234.6 L654.4,234.5 L655.3,234.7 L656.3,235.2 L657.2,235.8 L658.2,236.3 L659.1,236.5 L660.1,236.4 L661.0,235.9 L662.0,235.0 L662.9,233.8 L663.9,232.5 L664.8,231.3 L665.8,230.2 L666.7,229.5 L667.7,229.2 L668.6,229.3 L669.6,229.6 L670.5,230.2" fill="none" stroke="#3a6a9c" stroke-width="1.1"/>
<path d="M643.0,240.8 L643.9,239.5 L644.9,238.4 L645.8,237.6 L646.8,237.2 L647.7,237.2 L648.7,237.5 L649.6,238.0 L650.6,238.6 L651.5,239.0 L652.5,239.2 L653.4,239.0 L654.4,238.4 L655.3,237.4 L656.3,236.2 L657.2,234.8 L658.2,233.6 L659.1,232.6 L660.1,232.0 L661.0,231.8 L662.0,232.0 L662.9,232.4 L663.9,233.0 L664.8,233.5 L665.8,233.8 L666.7,233.8 L667.7,233.4 L668.6,232.6 L669.6,231.5 L670.5,230.2" fill="none" stroke="#3a6a9c" stroke-width="1.1"/>
<circle cx="650.5" cy="192.2" r="3.9" fill="#7b9dc7" stroke="#5a80b2" stroke-width="0.8"/>
<circle cx="656.0" cy="196.6" r="3.9" fill="#7b9dc7" stroke="#5a80b2" stroke-width="0.8"/>
<circle cx="652.6" cy="202.8" r="3.9" fill="#7b9dc7" stroke="#5a80b2" stroke-width="0.8"/>
<circle cx="645.2" cy="200.4" r="3.9" fill="#7b9dc7" stroke="#5a80b2" stroke-width="0.8"/>
<circle cx="651.0" cy="198.0" r="2.6" fill="#7b9dc7"/>
<line x1="655.5" y1="190.8" x2="665.0" y2="176.3" stroke="#5b82b4" stroke-width="1.0"/>
<line x1="658.5" y1="186.5" x2="661.5" y2="181.5" stroke="#5b82b4" stroke-width="2.2"/>
<circle cx="710.5" cy="166.2" r="4.0" fill="#7b9dc7" stroke="#5a80b2" stroke-width="0.8"/>
<circle cx="715.5" cy="171.4" r="4.0" fill="#7b9dc7" stroke="#5a80b2" stroke-width="0.8"/>
<circle cx="707.8" cy="177.2" r="4.0" fill="#7b9dc7" stroke="#5a80b2" stroke-width="0.8"/>
<circle cx="703.4" cy="171.9" r="4.0" fill="#7b9dc7" stroke="#5a80b2" stroke-width="0.8"/>
<circle cx="709.3" cy="172.0" r="2.5" fill="#7b9dc7"/>
<line x1="688.8" y1="186.6" x2="703.0" y2="175.0" stroke="#5b82b4" stroke-width="1.0"/>
<line x1="692.0" y1="183.8" x2="697.0" y2="179.8" stroke="#5b82b4" stroke-width="2.2"/>
<path d="M712.3,158.2 C715,158.6 716.6,159.6 717.4,162.2 C718.2,165 718.2,167 720,167.9 L722.4,168.2" fill="none" stroke="#222" stroke-width="1.3"/>
<path d="M709.6,182.8 L718.3,185.3 L724.7,195.1" fill="none" stroke="#2f6ea6" stroke-width="1.9" stroke-linejoin="round"/>
<path d="M708.7,186.3 L716.0,188.3" fill="none" stroke="#2f6ea6" stroke-width="1.9"/>
<path d="M720.8,174.6 L721.2,184.2 L727.8,192.9" fill="none" stroke="#2f6ea6" stroke-width="1.9" stroke-linejoin="round"/>
<path d="M724.0,174.6 L724.2,181.9" fill="none" stroke="#2f6ea6" stroke-width="1.9"/>
<circle cx="731.3" cy="201.3" r="5.1" fill="#2582b6" stroke="#1c6a98" stroke-width="0.6"/>
<text x="600.2" y="282.4" font-size="16" textLength="125.4" lengthAdjust="spacingAndGlyphs">Stability assay</text>
<line x1="748.6" y1="226.3" x2="790.0" y2="226.3" stroke="#3d4b63" stroke-width="2"/>
<path d="M796.3,226.3 L786.3,222.1 L789.1,226.3 L786.3,230.5 Z" fill="#3d4b63"/>
<text x="806.7" y="232.0" font-size="16" textLength="50.4" lengthAdjust="spacingAndGlyphs">Binder</text>
<text x="813.0" y="269.8" font-size="16" textLength="37.4" lengthAdjust="spacingAndGlyphs">Non-</text>
<text x="806.7" y="289.3" font-size="16" textLength="50.4" lengthAdjust="spacingAndGlyphs">binder</text>
<rect x="866.1" y="198.9" width="91.7" height="110.2" fill="none" stroke="#2a2a2a" stroke-width="2.9"/>
<line x1="866.1" y1="255.1" x2="957.8" y2="255.1" stroke="#2a2a2a" stroke-width="2.9"/>
<path d="M867.4,252.2 L868.9,252.0 L870.4,251.8 L871.9,251.5 L873.3,251.2 L874.8,250.8 L876.3,250.4 L877.8,249.8 L879.3,249.2 L880.8,248.4 L882.3,247.5 L883.8,246.5 L885.2,245.4 L886.7,244.0 L888.2,242.6 L889.7,241.0 L891.2,239.2 L892.7,237.2 L894.2,235.2 L895.6,232.9 L897.1,230.6 L898.6,228.2 L900.1,225.7 L901.6,223.1 L903.1,220.6 L904.6,218.1 L906.1,215.6 L907.5,213.3 L909.0,211.1 L910.5,209.2 L912.0,207.4 L913.5,206.0 L915.0,204.8 L916.5,203.9 L917.9,203.4 L919.4,203.3 L920.9,203.5 L922.4,204.1 L923.9,205.0 L925.4,206.2 L926.9,207.7 L928.4,209.5 L929.8,211.5 L931.3,213.7 L932.8,216.1 L934.3,218.5 L935.8,221.0 L937.3,223.6 L938.8,226.1 L940.2,228.6 L941.7,231.0 L943.2,233.4 L944.7,235.5 L946.2,237.6 L947.7,239.5 L949.2,241.3 L950.7,242.9 L952.1,244.3 L953.6,245.6 L955.1,246.7 L956.6,247.7" fill="none" stroke="#92c6d6" stroke-width="1.6"/>
<path d="M867.4,307.6 L868.2,307.6 L869.0,307.6 L869.7,307.6 L870.5,307.6 L871.3,307.6 L872.1,307.6 L872.8,307.6 L873.6,307.5 L874.4,307.3 L875.2,307.0 L875.9,306.3 L876.7,305.3 L877.5,303.7 L878.3,301.4 L879.0,298.4 L879.8,294.9 L880.6,290.8 L881.4,286.6 L882.2,282.4 L882.9,278.5 L883.7,275.2 L884.5,272.5 L885.3,270.5 L886.0,269.2 L886.8,268.4 L887.6,268.0 L888.4,267.8 L889.1,267.8 L889.9,267.8 L890.7,267.9 L891.5,268.3 L892.3,269.0 L893.0,270.3 L893.8,272.2 L894.6,274.8 L895.4,278.0 L896.1,281.8 L896.9,286.0 L897.7,290.2 L898.5,294.3 L899.2,298.0 L900.0,301.0 L900.8,303.4 L901.6,305.1 L902.4,306.2 L903.1,306.9 L903.9,307.3 L904.7,307.5 L905.5,307.5 L906.2,307.6 L907.0,307.6 L907.8,307.6 L908.6,307.6 L909.3,307.6 L910.1,307.6 L910.9,307.6 L911.7,307.6 L912.4,307.6 L913.2,307.6 L914.0,307.6" fill="none" stroke="#4a4e69" stroke-width="2.6" stroke-linejoin="round"/>
<text x="898.8" y="327.4" font-size="16" textLength="32.1" lengthAdjust="spacingAndGlyphs">HLA</text>
<text x="581.1" y="314.6" font-size="16" textLength="192.7" lengthAdjust="spacingAndGlyphs">Antibody binding to HLA</text>
<text x="567.7" y="331.3" font-size="16" textLength="220.0" lengthAdjust="spacingAndGlyphs">detected via flow cytometry</text>
<line x1="576.0" y1="342.0" x2="951.0" y2="342.0" stroke="#000" stroke-width="2.5" stroke-dasharray="8.5 8.2"/>
<text x="601.8" y="370.0" font-size="16" textLength="143.0" lengthAdjust="spacingAndGlyphs">Immunogenicity</text>
<text x="629.6" y="392.4" font-size="16" textLength="86.9" lengthAdjust="spacingAndGlyphs">validation</text>
<path d="M622,403.2 L716.8,403.2 Q718.8,403.2 718.8,405.2 L718.8,475 Q718.8,476.9 716.8,476.9 L619.5,476.9 Q617.5,476.9 617.5,475 L617.5,407.7 Z" fill="#e2ecf2" stroke="#c8d8e2" stroke-width="0.8"/>
<path d="M624,407 L714.5,407 L714.5,473 L621.5,473 L621.5,409.5 Z" fill="none" stroke="#d2dfe7" stroke-width="0.8"/>
<circle cx="630.2" cy="415.1" r="2.9" fill="#fdfefe" stroke="#7a8a93" stroke-width="0.5" stroke-dasharray="0.8 0.6"/>
<circle cx="637.5" cy="415.1" r="2.9" fill="#fdfefe" stroke="#7a8a93" stroke-width="0.5" stroke-dasharray="0.8 0.6"/>
<circle cx="644.7" cy="415.1" r="2.9" fill="#8ccbe8" stroke="#6fa9c6" stroke-width="0.55"/>
<circle cx="652.0" cy="415.1" r="2.9" fill="#8ccbe8" stroke="#6fa9c6" stroke-width="0.55"/>
<circle cx="659.2" cy="415.1" r="2.9" fill="#d2e8f4" stroke="#6f828c" stroke-width="0.5" stroke-dasharray="0.8 0.6"/>
<circle cx="659.0" cy="414.9" r="0.35" fill="#3a4a52"/>
<circle cx="666.5" cy="415.1" r="2.9" fill="#d2e8f4" stroke="#6f828c" stroke-width="0.5" stroke-dasharray="0.8 0.6"/>
<circle cx="665.2" cy="415.3" r="0.35" fill="#3a4a52"/>
<circle cx="664.9" cy="413.9" r="0.35" fill="#3a4a52"/>
<circle cx="665.3" cy="415.3" r="0.35" fill="#3a4a52"/>
<circle cx="667.1" cy="416.6" r="0.35" fill="#3a4a52"/>
<circle cx="673.8" cy="415.1" r="2.9" fill="#d2e8f4" stroke="#6f828c" stroke-width="0.5" stroke-dasharray="0.8 0.6"/>
<circle cx="674.3" cy="414.2" r="0.35" fill="#3a4a52"/>
<circle cx="673.5" cy="414.8" r="0.35" fill="#3a4a52"/>
<circle cx="672.5" cy="413.7" r="0.35" fill="#3a4a52"/>
<circle cx="672.1" cy="414.9" r="0.35" fill="#3a4a52"/>
<circle cx="681.0" cy="415.1" r="2.9" fill="#d2e8f4" stroke="#6f828c" stroke-width="0.5" stroke-dasharray="0.8 0.6"/>
<circle cx="688.3" cy="415.1" r="2.9" fill="#d2e8f4" stroke="#6f828c" stroke-width="0.5" stroke-dasharray="0.8 0.6"/>
<circle cx="688.3" cy="413.8" r="0.35" fill="#3a4a52"/>
<circle cx="695.5" cy="415.1" r="2.9" fill="#d2e8f4" stroke="#6f828c" stroke-width="0.5" stroke-dasharray="0.8 0.6"/>
<circle cx="695.9" cy="413.3" r="0.35" fill="#3a4a52"/>
<circle cx="695.4" cy="416.4" r="0.35" fill="#3a4a52"/>
<circle cx="702.8" cy="415.1" r="2.9" fill="#fdfefe" stroke="#7a8a93" stroke-width="0.5" stroke-dasharray="0.8 0.6"/>
<circle cx="710.1" cy="415.1" r="2.9" fill="#fdfefe" stroke="#7a8a93" stroke-width="0.5" stroke-dasharray="0.8 0.6"/>
<circle cx="630.2" cy="422.4" r="2.9" fill="#fdfefe" stroke="#7a8a93" stroke-width="0.5" stroke-dasharray="0.8 0.6"/>
<circle cx="637.5" cy="422.4" r="2.9" fill="#fdfefe" stroke="#7a8a93" stroke-width="0.5" stroke-dasharray="0.8 0.6"/>
<circle cx="644.7" cy="422.4" r="2.9" fill="#8ccbe8" stroke="#6fa9c6" stroke-width="0.55"/>
<circle cx="652.0" cy="422.4" r="2.9" fill="#8ccbe8" stroke="#6fa9c6" stroke-width="0.55"/>
<circle cx="659.2" cy="422.4" r="2.9" fill="#d2e8f4" stroke="#6f828c" stroke-width="0.5" stroke-dasharray="0.8 0.6"/>
<circle cx="658.8" cy="420.5" r="0.35" fill="#3a4a52"/>
<circle cx="657.8" cy="423.5" r="0.35" fill="#3a4a52"/>
<circle cx="657.3" cy="423.1" r="0.35" fill="#3a4a52"/>
<circle cx="666.5" cy="422.4" r="2.9" fill="#d2e8f4" stroke="#6f828c" stroke-width="0.5" stroke-dasharray="0.8 0.6"/>
<circle cx="666.7" cy="422.6" r="0.35" fill="#3a4a52"/>
<circle cx="666.9" cy="424.5" r="0.35" fill="#3a4a52"/>
<circle cx="673.8" cy="422.4" r="2.9" fill="#d2e8f4" stroke="#6f828c" stroke-width="0.5" stroke-dasharray="0.8 0.6"/>
<circle cx="674.1" cy="420.6" r="0.35" fill="#3a4a52"/>
<circle cx="672.1" cy="423.3" r="0.35" fill="#3a4a52"/>
<circle cx="672.7" cy="421.9" r="0.35" fill="#3a4a52"/>
<circle cx="681.0" cy="422.4" r="2.9" fill="#d2e8f4" stroke="#6f828c" stroke-width="0.5" stroke-dasharray="0.8 0.6"/>
<circle cx="679.3" cy="421.4" r="0.35" fill="#3a4a52"/>
<circle cx="680.2" cy="420.6" r="0.35" fill="#3a4a52"/>
<circle cx="682.4" cy="420.7" r="0.35" fill="#3a4a52"/>
<circle cx="688.3" cy="422.4" r="2.9" fill="#d2e8f4" stroke="#6f828c" stroke-width="0.5" stroke-dasharray="0.8 0.6"/>
<circle cx="688.1" cy="421.7" r="0.35" fill="#3a4a52"/>
<circle cx="695.5" cy="422.4" r="2.9" fill="#d2e8f4" stroke="#6f828c" stroke-width="0.5" stroke-dasharray="0.8 0.6"/>
<circle cx="696.6" cy="421.7" r="0.35" fill="#3a4a52"/>
<circle cx="695.4" cy="422.0" r="0.35" fill="#3a4a52"/>
<circle cx="696.2" cy="421.3" r="0.35" fill="#3a4a52"/>
<circle cx="695.5" cy="422.6" r="0.35" fill="#3a4a52"/>
<circle cx="702.8" cy="422.4" r="2.9" fill="#fdfefe" stroke="#7a8a93" stroke-width="0.5" stroke-dasharray="0.8 0.6"/>
<circle cx="710.1" cy="422.4" r="2.9" fill="#fdfefe" stroke="#7a8a93" stroke-width="0.5" stroke-dasharray="0.8 0.6"/>
<circle cx="630.2" cy="429.8" r="2.9" fill="#fdfefe" stroke="#7a8a93" stroke-width="0.5" stroke-dasharray="0.8 0.6"/>
<circle cx="637.5" cy="429.8" r="2.9" fill="#fdfefe" stroke="#7a8a93" stroke-width="0.5" stroke-dasharray="0.8 0.6"/>
<circle cx="644.7" cy="429.8" r="2.9" fill="#8ccbe8" stroke="#6fa9c6" stroke-width="0.55"/>
<circle cx="652.0" cy="429.8" r="2.9" fill="#8ccbe8" stroke="#6fa9c6" stroke-width="0.55"/>
<circle cx="659.2" cy="429.8" r="2.9" fill="#d2e8f4" stroke="#6f828c" stroke-width="0.5" stroke-dasharray="0.8 0.6"/>
<circle cx="660.7" cy="430.7" r="0.35" fill="#3a4a52"/>
<circle cx="659.0" cy="429.9" r="0.35" fill="#3a4a52"/>
<circle cx="658.8" cy="431.4" r="0.35" fill="#3a4a52"/>
<circle cx="666.5" cy="429.8" r="2.9" fill="#d2e8f4" stroke="#6f828c" stroke-width="0.5" stroke-dasharray="0.8 0.6"/>
<circle cx="673.8" cy="429.8" r="2.9" fill="#d2e8f4" stroke="#6f828c" stroke-width="0.5" stroke-dasharray="0.8 0.6"/>
<circle cx="681.0" cy="429.8" r="2.9" fill="#d2e8f4" stroke="#6f828c" stroke-width="0.5" stroke-dasharray="0.8 0.6"/>
<circle cx="680.9" cy="429.7" r="0.35" fill="#3a4a52"/>
<circle cx="680.9" cy="429.0" r="0.35" fill="#3a4a52"/>
<circle cx="682.6" cy="428.3" r="0.35" fill="#3a4a52"/>
<circle cx="678.8" cy="429.7" r="0.35" fill="#3a4a52"/>
<circle cx="688.3" cy="429.8" r="2.9" fill="#d2e8f4" stroke="#6f828c" stroke-width="0.5" stroke-dasharray="0.8 0.6"/>
<circle cx="688.5" cy="429.8" r="0.35" fill="#3a4a52"/>
<circle cx="686.2" cy="429.3" r="0.35" fill="#3a4a52"/>
<circle cx="695.5" cy="429.8" r="2.9" fill="#d2e8f4" stroke="#6f828c" stroke-width="0.5" stroke-dasharray="0.8 0.6"/>
<circle cx="695.4" cy="430.3" r="0.35" fill="#3a4a52"/>
<circle cx="694.7" cy="427.8" r="0.35" fill="#3a4a52"/>
<circle cx="695.1" cy="430.4" r="0.35" fill="#3a4a52"/>
<circle cx="702.8" cy="429.8" r="2.9" fill="#fdfefe" stroke="#7a8a93" stroke-width="0.5" stroke-dasharray="0.8 0.6"/>
<circle cx="710.1" cy="429.8" r="2.9" fill="#fdfefe" stroke="#7a8a93" stroke-width="0.5" stroke-dasharray="0.8 0.6"/>
<circle cx="630.2" cy="437.1" r="2.9" fill="#fdfefe" stroke="#7a8a93" stroke-width="0.5" stroke-dasharray="0.8 0.6"/>
<circle cx="637.5" cy="437.1" r="2.9" fill="#fdfefe" stroke="#7a8a93" stroke-width="0.5" stroke-dasharray="0.8 0.6"/>
<circle cx="644.7" cy="437.1" r="2.9" fill="#8ccbe8" stroke="#6fa9c6" stroke-width="0.55"/>
<circle cx="652.0" cy="437.1" r="2.9" fill="#8ccbe8" stroke="#6fa9c6" stroke-width="0.55"/>
<circle cx="659.2" cy="437.1" r="2.9" fill="#d2e8f4" stroke="#6f828c" stroke-width="0.5" stroke-dasharray="0.8 0.6"/>
<circle cx="659.9" cy="436.6" r="0.35" fill="#3a4a52"/>
<circle cx="666.5" cy="437.1" r="2.9" fill="#d2e8f4" stroke="#6f828c" stroke-width="0.5" stroke-dasharray="0.8 0.6"/>
<circle cx="667.1" cy="436.5" r="0.35" fill="#3a4a52"/>
<circle cx="667.5" cy="436.0" r="0.35" fill="#3a4a52"/>
<circle cx="668.2" cy="438.4" r="0.35" fill="#3a4a52"/>
<circle cx="673.8" cy="437.1" r="2.9" fill="#d2e8f4" stroke="#6f828c" stroke-width="0.5" stroke-dasharray="0.8 0.6"/>
<circle cx="673.6" cy="438.5" r="0.35" fill="#3a4a52"/>
<circle cx="673.3" cy="435.1" r="0.35" fill="#3a4a52"/>
<circle cx="673.2" cy="437.3" r="0.35" fill="#3a4a52"/>
<circle cx="673.5" cy="437.8" r="0.35" fill="#3a4a52"/>
<circle cx="681.0" cy="437.1" r="2.9" fill="#d2e8f4" stroke="#6f828c" stroke-width="0.5" stroke-dasharray="0.8 0.6"/>
<circle cx="681.7" cy="437.0" r="0.35" fill="#3a4a52"/>
<circle cx="680.1" cy="438.0" r="0.35" fill="#3a4a52"/>
<circle cx="682.0" cy="438.1" r="0.35" fill="#3a4a52"/>
<circle cx="688.3" cy="437.1" r="2.9" fill="#d2e8f4" stroke="#6f828c" stroke-width="0.5" stroke-dasharray="0.8 0.6"/>
<circle cx="686.8" cy="437.4" r="0.35" fill="#3a4a52"/>
<circle cx="687.3" cy="438.3" r="0.35" fill="#3a4a52"/>
<circle cx="695.5" cy="437.1" r="2.9" fill="#d2e8f4" stroke="#6f828c" stroke-width="0.5" stroke-dasharray="0.8 0.6"/>
<circle cx="695.7" cy="437.1" r="0.35" fill="#3a4a52"/>
<circle cx="694.6" cy="435.2" r="0.35" fill="#3a4a52"/>
<circle cx="695.5" cy="438.1" r="0.35" fill="#3a4a52"/>
<circle cx="702.8" cy="437.1" r="2.9" fill="#fdfefe" stroke="#7a8a93" stroke-width="0.5" stroke-dasharray="0.8 0.6"/>
<circle cx="710.1" cy="437.1" r="2.9" fill="#fdfefe" stroke="#7a8a93" stroke-width="0.5" stroke-dasharray="0.8 0.6"/>
<circle cx="630.2" cy="444.4" r="2.9" fill="#fdfefe" stroke="#7a8a93" stroke-width="0.5" stroke-dasharray="0.8 0.6"/>
<circle cx="637.5" cy="444.4" r="2.9" fill="#fdfefe" stroke="#7a8a93" stroke-width="0.5" stroke-dasharray="0.8 0.6"/>
<circle cx="644.7" cy="444.4" r="2.9" fill="#8ccbe8" stroke="#6fa9c6" stroke-width="0.55"/>
<circle cx="652.0" cy="444.4" r="2.9" fill="#8ccbe8" stroke="#6fa9c6" stroke-width="0.55"/>
<circle cx="659.2" cy="444.4" r="2.9" fill="#d2e8f4" stroke="#6f828c" stroke-width="0.5" stroke-dasharray="0.8 0.6"/>
<circle cx="658.9" cy="444.2" r="0.35" fill="#3a4a52"/>
<circle cx="659.9" cy="446.0" r="0.35" fill="#3a4a52"/>
<circle cx="659.6" cy="443.9" r="0.35" fill="#3a4a52"/>
<circle cx="659.3" cy="444.2" r="0.35" fill="#3a4a52"/>
<circle cx="666.5" cy="444.4" r="2.9" fill="#d2e8f4" stroke="#6f828c" stroke-width="0.5" stroke-dasharray="0.8 0.6"/>
<circle cx="673.8" cy="444.4" r="2.9" fill="#d2e8f4" stroke="#6f828c" stroke-width="0.5" stroke-dasharray="0.8 0.6"/>
<circle cx="673.6" cy="444.2" r="0.35" fill="#3a4a52"/>
<circle cx="672.3" cy="444.4" r="0.35" fill="#3a4a52"/>
<circle cx="673.7" cy="445.1" r="0.35" fill="#3a4a52"/>
<circle cx="673.1" cy="443.1" r="0.35" fill="#3a4a52"/>
<circle cx="681.0" cy="444.4" r="2.9" fill="#d2e8f4" stroke="#6f828c" stroke-width="0.5" stroke-dasharray="0.8 0.6"/>
<circle cx="688.3" cy="444.4" r="2.9" fill="#d2e8f4" stroke="#6f828c" stroke-width="0.5" stroke-dasharray="0.8 0.6"/>
<circle cx="695.5" cy="444.4" r="2.9" fill="#d2e8f4" stroke="#6f828c" stroke-width="0.5" stroke-dasharray="0.8 0.6"/>
<circle cx="695.2" cy="445.1" r="0.35" fill="#3a4a52"/>
<circle cx="696.0" cy="443.6" r="0.35" fill="#3a4a52"/>
<circle cx="695.8" cy="444.1" r="0.35" fill="#3a4a52"/>
<circle cx="694.8" cy="445.6" r="0.35" fill="#3a4a52"/>
<circle cx="702.8" cy="444.4" r="2.9" fill="#fdfefe" stroke="#7a8a93" stroke-width="0.5" stroke-dasharray="0.8 0.6"/>
<circle cx="710.1" cy="444.4" r="2.9" fill="#fdfefe" stroke="#7a8a93" stroke-width="0.5" stroke-dasharray="0.8 0.6"/>
<circle cx="630.2" cy="451.8" r="2.9" fill="#fdfefe" stroke="#7a8a93" stroke-width="0.5" stroke-dasharray="0.8 0.6"/>
<circle cx="637.5" cy="451.8" r="2.9" fill="#fdfefe" stroke="#7a8a93" stroke-width="0.5" stroke-dasharray="0.8 0.6"/>
<circle cx="644.7" cy="451.8" r="2.9" fill="#8ccbe8" stroke="#6fa9c6" stroke-width="0.55"/>
<circle cx="652.0" cy="451.8" r="2.9" fill="#8ccbe8" stroke="#6fa9c6" stroke-width="0.55"/>
<circle cx="659.2" cy="451.8" r="2.9" fill="#d2e8f4" stroke="#6f828c" stroke-width="0.5" stroke-dasharray="0.8 0.6"/>
<circle cx="658.8" cy="451.9" r="0.35" fill="#3a4a52"/>
<circle cx="660.1" cy="452.6" r="0.35" fill="#3a4a52"/>
<circle cx="659.9" cy="453.4" r="0.35" fill="#3a4a52"/>
<circle cx="659.5" cy="451.4" r="0.35" fill="#3a4a52"/>
<circle cx="666.5" cy="451.8" r="2.9" fill="#d2e8f4" stroke="#6f828c" stroke-width="0.5" stroke-dasharray="0.8 0.6"/>
<circle cx="665.5" cy="453.3" r="0.35" fill="#3a4a52"/>
<circle cx="667.7" cy="452.4" r="0.35" fill="#3a4a52"/>
<circle cx="673.8" cy="451.8" r="2.9" fill="#d2e8f4" stroke="#6f828c" stroke-width="0.5" stroke-dasharray="0.8 0.6"/>
<circle cx="674.2" cy="452.2" r="0.35" fill="#3a4a52"/>
<circle cx="673.9" cy="451.2" r="0.35" fill="#3a4a52"/>
<circle cx="673.2" cy="452.5" r="0.35" fill="#3a4a52"/>
<circle cx="673.0" cy="452.2" r="0.35" fill="#3a4a52"/>
<circle cx="681.0" cy="451.8" r="2.9" fill="#d2e8f4" stroke="#6f828c" stroke-width="0.5" stroke-dasharray="0.8 0.6"/>
<circle cx="681.0" cy="451.8" r="0.35" fill="#3a4a52"/>
<circle cx="682.8" cy="451.1" r="0.35" fill="#3a4a52"/>
<circle cx="682.0" cy="451.7" r="0.35" fill="#3a4a52"/>
<circle cx="688.3" cy="451.8" r="2.9" fill="#d2e8f4" stroke="#6f828c" stroke-width="0.5" stroke-dasharray="0.8 0.6"/>
<circle cx="689.3" cy="452.0" r="0.35" fill="#3a4a52"/>
<circle cx="695.5" cy="451.8" r="2.9" fill="#d2e8f4" stroke="#6f828c" stroke-width="0.5" stroke-dasharray="0.8 0.6"/>
<circle cx="696.7" cy="451.5" r="0.35" fill="#3a4a52"/>
<circle cx="697.0" cy="450.5" r="0.35" fill="#3a4a52"/>
<circle cx="696.9" cy="450.1" r="0.35" fill="#3a4a52"/>
<circle cx="695.9" cy="452.1" r="0.35" fill="#3a4a52"/>
<circle cx="702.8" cy="451.8" r="2.9" fill="#fdfefe" stroke="#7a8a93" stroke-width="0.5" stroke-dasharray="0.8 0.6"/>
<circle cx="710.1" cy="451.8" r="2.9" fill="#fdfefe" stroke="#7a8a93" stroke-width="0.5" stroke-dasharray="0.8 0.6"/>
<circle cx="630.2" cy="459.1" r="2.9" fill="#fdfefe" stroke="#7a8a93" stroke-width="0.5" stroke-dasharray="0.8 0.6"/>
<circle cx="637.5" cy="459.1" r="2.9" fill="#fdfefe" stroke="#7a8a93" stroke-width="0.5" stroke-dasharray="0.8 0.6"/>
<circle cx="644.7" cy="459.1" r="2.9" fill="#8ccbe8" stroke="#6fa9c6" stroke-width="0.55"/>
<circle cx="652.0" cy="459.1" r="2.9" fill="#8ccbe8" stroke="#6fa9c6" stroke-width="0.55"/>
<circle cx="659.2" cy="459.1" r="2.9" fill="#d2e8f4" stroke="#6f828c" stroke-width="0.5" stroke-dasharray="0.8 0.6"/>
<circle cx="666.5" cy="459.1" r="2.9" fill="#d2e8f4" stroke="#6f828c" stroke-width="0.5" stroke-dasharray="0.8 0.6"/>
<circle cx="668.3" cy="458.2" r="0.35" fill="#3a4a52"/>
<circle cx="667.5" cy="458.3" r="0.35" fill="#3a4a52"/>
<circle cx="668.1" cy="459.2" r="0.35" fill="#3a4a52"/>
<circle cx="666.8" cy="459.7" r="0.35" fill="#3a4a52"/>
<circle cx="673.8" cy="459.1" r="2.9" fill="#d2e8f4" stroke="#6f828c" stroke-width="0.5" stroke-dasharray="0.8 0.6"/>
<circle cx="681.0" cy="459.1" r="2.9" fill="#d2e8f4" stroke="#6f828c" stroke-width="0.5" stroke-dasharray="0.8 0.6"/>
<circle cx="680.9" cy="459.1" r="0.35" fill="#3a4a52"/>
<circle cx="681.2" cy="459.0" r="0.35" fill="#3a4a52"/>
<circle cx="682.5" cy="460.6" r="0.35" fill="#3a4a52"/>
<circle cx="679.3" cy="458.6" r="0.35" fill="#3a4a52"/>
<circle cx="688.3" cy="459.1" r="2.9" fill="#d2e8f4" stroke="#6f828c" stroke-width="0.5" stroke-dasharray="0.8 0.6"/>
<circle cx="695.5" cy="459.1" r="2.9" fill="#d2e8f4" stroke="#6f828c" stroke-width="0.5" stroke-dasharray="0.8 0.6"/>
<circle cx="695.6" cy="459.3" r="0.35" fill="#3a4a52"/>
<circle cx="695.7" cy="458.9" r="0.35" fill="#3a4a52"/>
<circle cx="702.8" cy="459.1" r="2.9" fill="#fdfefe" stroke="#7a8a93" stroke-width="0.5" stroke-dasharray="0.8 0.6"/>
<circle cx="710.1" cy="459.1" r="2.9" fill="#fdfefe" stroke="#7a8a93" stroke-width="0.5" stroke-dasharray="0.8 0.6"/>
<circle cx="630.2" cy="466.4" r="2.9" fill="#fdfefe" stroke="#7a8a93" stroke-width="0.5" stroke-dasharray="0.8 0.6"/>
<circle cx="637.5" cy="466.4" r="2.9" fill="#fdfefe" stroke="#7a8a93" stroke-width="0.5" stroke-dasharray="0.8 0.6"/>
<circle cx="644.7" cy="466.4" r="2.9" fill="#8ccbe8" stroke="#6fa9c6" stroke-width="0.55"/>
<circle cx="652.0" cy="466.4" r="2.9" fill="#8ccbe8" stroke="#6fa9c6" stroke-width="0.55"/>
<circle cx="659.2" cy="466.4" r="2.9" fill="#d2e8f4" stroke="#6f828c" stroke-width="0.5" stroke-dasharray="0.8 0.6"/>
<circle cx="659.8" cy="464.5" r="0.35" fill="#3a4a52"/>
<circle cx="666.5" cy="466.4" r="2.9" fill="#d2e8f4" stroke="#6f828c" stroke-width="0.5" stroke-dasharray="0.8 0.6"/>
<circle cx="666.5" cy="466.4" r="0.35" fill="#3a4a52"/>
<circle cx="673.8" cy="466.4" r="2.9" fill="#d2e8f4" stroke="#6f828c" stroke-width="0.5" stroke-dasharray="0.8 0.6"/>
<circle cx="673.8" cy="466.3" r="0.35" fill="#3a4a52"/>
<circle cx="673.7" cy="467.0" r="0.35" fill="#3a4a52"/>
<circle cx="672.8" cy="466.3" r="0.35" fill="#3a4a52"/>
<circle cx="672.1" cy="466.7" r="0.35" fill="#3a4a52"/>
<circle cx="681.0" cy="466.4" r="2.9" fill="#d2e8f4" stroke="#6f828c" stroke-width="0.5" stroke-dasharray="0.8 0.6"/>
<circle cx="688.3" cy="466.4" r="2.9" fill="#d2e8f4" stroke="#6f828c" stroke-width="0.5" stroke-dasharray="0.8 0.6"/>
<circle cx="695.5" cy="466.4" r="2.9" fill="#d2e8f4" stroke="#6f828c" stroke-width="0.5" stroke-dasharray="0.8 0.6"/>
<circle cx="695.6" cy="466.4" r="0.35" fill="#3a4a52"/>
<circle cx="702.8" cy="466.4" r="2.9" fill="#fdfefe" stroke="#7a8a93" stroke-width="0.5" stroke-dasharray="0.8 0.6"/>
<circle cx="710.1" cy="466.4" r="2.9" fill="#fdfefe" stroke="#7a8a93" stroke-width="0.5" stroke-dasharray="0.8 0.6"/>
<circle cx="630.2" cy="410.3" r="0.3" fill="#8da2ae"/>
<circle cx="637.5" cy="410.3" r="0.3" fill="#8da2ae"/>
<circle cx="644.7" cy="410.3" r="0.3" fill="#8da2ae"/>
<circle cx="652.0" cy="410.3" r="0.3" fill="#8da2ae"/>
<circle cx="659.2" cy="410.3" r="0.3" fill="#8da2ae"/>
<circle cx="666.5" cy="410.3" r="0.3" fill="#8da2ae"/>
<circle cx="673.8" cy="410.3" r="0.3" fill="#8da2ae"/>
<circle cx="681.0" cy="410.3" r="0.3" fill="#8da2ae"/>
<circle cx="688.3" cy="410.3" r="0.3" fill="#8da2ae"/>
<circle cx="695.5" cy="410.3" r="0.3" fill="#8da2ae"/>
<circle cx="702.8" cy="410.3" r="0.3" fill="#8da2ae"/>
<circle cx="710.1" cy="410.3" r="0.3" fill="#8da2ae"/>
<circle cx="625.6" cy="415.1" r="0.3" fill="#8da2ae"/>
<circle cx="625.6" cy="422.4" r="0.3" fill="#8da2ae"/>
<circle cx="625.6" cy="429.8" r="0.3" fill="#8da2ae"/>
<circle cx="625.6" cy="437.1" r="0.3" fill="#8da2ae"/>
<circle cx="625.6" cy="444.4" r="0.3" fill="#8da2ae"/>
<circle cx="625.6" cy="451.8" r="0.3" fill="#8da2ae"/>
<circle cx="625.6" cy="459.1" r="0.3" fill="#8da2ae"/>
<circle cx="625.6" cy="466.4" r="0.3" fill="#8da2ae"/>
<text x="619.0" y="500.6" font-size="16" textLength="108.7" lengthAdjust="spacingAndGlyphs">IFNγ ELISpot</text>
<line x1="755.3" y1="421.4" x2="797.0" y2="421.4" stroke="#3d4b63" stroke-width="2"/>
<path d="M803.1,421.4 L793.1,417.2 L795.9,421.4 L793.1,425.6 Z" fill="#3d4b63"/>
<text x="825.5" y="406.0" font-size="16" textLength="129.6" lengthAdjust="spacingAndGlyphs">Single-epitope</text>
<text x="821.8" y="428.3" font-size="16" textLength="137.0" lengthAdjust="spacingAndGlyphs">mapping for 30</text>
<text x="819.4" y="451.3" font-size="16" textLength="142.1" lengthAdjust="spacingAndGlyphs">HLA-haplotyped</text>
<text x="842.5" y="473.1" font-size="16" textLength="95.6" lengthAdjust="spacingAndGlyphs">individuals</text>
<text x="0" y="0" font-size="40" font-weight="bold" transform="translate(1032.0 30.8) scale(1.17 1)">c</text>
<text x="1331.3" y="62.8" font-size="25.7" textLength="296.9" lengthAdjust="spacingAndGlyphs">Representative stability</text>
<text x="1383.3" y="94.7" font-size="25.7" textLength="192.1" lengthAdjust="spacingAndGlyphs">assay (B*35:01)</text>
<line x1="1312.5" y1="192.5" x2="1646.5" y2="192.5" stroke="#dcdcdc" stroke-width="1.2"/>
<line x1="1312.5" y1="267.2" x2="1646.5" y2="267.2" stroke="#b9dafb" stroke-width="1.2"/>
<line x1="1312.5" y1="341.9" x2="1646.5" y2="341.9" stroke="#8fc4f8" stroke-width="1.4"/>
<line x1="1312.5" y1="416.2" x2="1646.5" y2="416.2" stroke="#8fc4f8" stroke-width="1.4"/>
<path d="M1389.7,192.5 L1389.7,192.2 L1399.7,188.1 L1409.7,183.1 L1416.3,174.8 L1424.6,168.1 L1431.3,157.3 L1441.2,148.2 L1446.2,138.2 L1448.7,133.2 L1454.5,132.9 L1459.5,125.8 L1469.5,126.6 L1478.6,130.7 L1484.4,143.2 L1491.1,151.5 L1501.0,174.8 L1509.3,184.7 L1519.3,190.5 L1529.3,192.5 L1529.3,192.5 Z" fill="#dedede" stroke="#a3a3a3" stroke-width="0.9" stroke-linejoin="round"/>
<path d="M1400.5,267.2 L1400.5,266.5 L1416.3,265.5 L1436.2,263.2 L1449.5,260.8 L1466.1,251.2 L1482.8,241.2 L1491.1,232.9 L1499.4,222.9 L1501.9,215.5 L1506.8,218.3 L1511.8,202.2 L1516.0,202.7 L1519.3,207.2 L1523.5,203.3 L1532.6,205.5 L1535.9,216.3 L1540.9,232.9 L1549.2,246.2 L1555.9,256.2 L1565.8,264.5 L1575.8,267.0 L1575.8,267.2 Z" fill="#cfe4fb" stroke="#78b6f0" stroke-width="0.9" stroke-linejoin="round"/>
<path d="M1401.3,341.9 L1401.3,341.4 L1426.3,339.1 L1449.5,335.8 L1466.1,333.1 L1478.6,328.1 L1491.1,311.5 L1501.9,306.5 L1514.3,287.4 L1522.6,281.6 L1529.3,277.4 L1535.9,280.8 L1544.2,291.6 L1547.5,294.9 L1554.2,316.5 L1565.8,333.1 L1575.8,340.6 L1584.1,341.7 L1584.1,341.9 Z" fill="#99cbfa" stroke="#1a84f0" stroke-width="1.1" stroke-linejoin="round"/>
<path d="M1406.3,416.2 L1406.3,415.7 L1436.2,413.8 L1454.5,411.4 L1466.1,407.9 L1482.8,402.9 L1487.7,394.6 L1499.4,386.3 L1511.0,373.0 L1514.3,368.8 L1522.6,366.3 L1530.1,354.7 L1531.8,354.7 L1535.9,362.2 L1541.7,363.0 L1549.2,382.9 L1559.2,397.9 L1570.8,412.0 L1582.4,415.7 L1582.4,416.2 Z" fill="#99cbfa" stroke="#1a84f0" stroke-width="1.1" stroke-linejoin="round"/>
<path d="M1393.0,490.5 L1393.0,490.6 L1399.7,488.1 L1408.0,483.9 L1416.3,482.3 L1424.6,473.1 L1431.3,470.1 L1436.2,464.0 L1441.2,461.5 L1444.5,453.2 L1451.2,439.9 L1459.5,436.6 L1464.5,431.6 L1472.8,428.3 L1478.6,426.6 L1480.3,429.1 L1484.4,444.9 L1494.4,458.2 L1502.7,478.1 L1514.3,484.8 L1524.3,489.7 L1532.6,491.1 L1532.6,490.5 Z" fill="#b5b5b5" stroke="#4f4f4f" stroke-width="1.1" stroke-linejoin="round"/>
<rect x="1311.4" y="117" width="336.1" height="374.3" fill="none" stroke="#000" stroke-width="2.2"/>
<text x="1561.1" y="140.2" font-size="17.5" fill="#a3a3a3" textLength="82.0" lengthAdjust="spacingAndGlyphs">MFI 1,832</text>
<text x="1556.1" y="213.8" font-size="17.5" fill="#8ec3f6" textLength="87.3" lengthAdjust="spacingAndGlyphs">MFI 6,634</text>
<text x="1556.1" y="289.6" font-size="17.5" fill="#3b94ec" textLength="87.8" lengthAdjust="spacingAndGlyphs">MFI 8,047</text>
<text x="1556.1" y="363.0" font-size="17.5" fill="#3b94ec" textLength="87.3" lengthAdjust="spacingAndGlyphs">MFI 8,305</text>
<text x="1560.1" y="436.4" font-size="17.5" fill="#8a8a8a" textLength="83.0" lengthAdjust="spacingAndGlyphs">MFI 1,983</text>
<text x="1237.0" y="165.1" font-size="22.8" textLength="68.0" lengthAdjust="spacingAndGlyphs">DMSO</text>
<text x="1069.0" y="223.0" font-size="22.8" textLength="236.0" lengthAdjust="spacingAndGlyphs">HIV immunodominant</text>
<text x="1190.9" y="248.8" font-size="22.8" textLength="114.1" lengthAdjust="spacingAndGlyphs">VPLRPMTY</text>
<text x="1076.0" y="297.3" font-size="22.8" textLength="229.0" lengthAdjust="spacingAndGlyphs">EBV predicted binder</text>
<text x="1184.5" y="323.6" font-size="22.8" textLength="120.5" lengthAdjust="spacingAndGlyphs">IACPIVMRY</text>
<text x="1076.0" y="373.0" font-size="22.8" textLength="229.0" lengthAdjust="spacingAndGlyphs">EBV predicted binder</text>
<text x="1144.5" y="398.8" font-size="22.8" textLength="160.5" lengthAdjust="spacingAndGlyphs">HPVGEADYFEY</text>
<text x="1026.1" y="447.3" font-size="22.8" textLength="278.9" lengthAdjust="spacingAndGlyphs">EBV predicted non-binder</text>
<text x="1172.5" y="473.6" font-size="22.8" textLength="132.5" lengthAdjust="spacingAndGlyphs">RLLLMRAGK</text>
<line x1="1331.0" y1="491.0" x2="1331.0" y2="500.5" stroke="#000" stroke-width="2.4"/>
<line x1="1379.5" y1="491.0" x2="1379.5" y2="500.5" stroke="#000" stroke-width="2.4"/>
<line x1="1385.1" y1="491.0" x2="1385.1" y2="500.5" stroke="#000" stroke-width="2.4"/>
<line x1="1393.2" y1="491.0" x2="1393.2" y2="500.5" stroke="#000" stroke-width="2.4"/>
<line x1="1441.6" y1="491.0" x2="1441.6" y2="500.5" stroke="#000" stroke-width="2.4"/>
<line x1="1533.7" y1="491.0" x2="1533.7" y2="500.5" stroke="#000" stroke-width="2.4"/>
<line x1="1614.5" y1="491.0" x2="1614.5" y2="500.5" stroke="#000" stroke-width="2.4"/>
<line x1="1356.0" y1="491.0" x2="1356.0" y2="497.5" stroke="#000" stroke-width="1.3"/>
<line x1="1416.6" y1="491.0" x2="1416.6" y2="497.5" stroke="#000" stroke-width="1.3"/>
<line x1="1509.5" y1="491.0" x2="1509.5" y2="497.5" stroke="#000" stroke-width="1.3"/>
<line x1="1591.1" y1="491.0" x2="1591.1" y2="497.5" stroke="#000" stroke-width="1.3"/>
<line x1="1335.0" y1="491.0" x2="1335.0" y2="496.0" stroke="#000" stroke-width="1.2"/>
<line x1="1339.1" y1="491.0" x2="1339.1" y2="496.0" stroke="#000" stroke-width="1.2"/>
<line x1="1344.7" y1="491.0" x2="1344.7" y2="496.0" stroke="#000" stroke-width="1.2"/>
<line x1="1349.6" y1="491.0" x2="1349.6" y2="496.0" stroke="#000" stroke-width="1.2"/>
<line x1="1362.5" y1="491.0" x2="1362.5" y2="496.0" stroke="#000" stroke-width="1.2"/>
<line x1="1367.3" y1="491.0" x2="1367.3" y2="496.0" stroke="#000" stroke-width="1.2"/>
<line x1="1373.8" y1="491.0" x2="1373.8" y2="496.0" stroke="#000" stroke-width="1.2"/>
<line x1="1381.9" y1="491.0" x2="1381.9" y2="496.0" stroke="#000" stroke-width="1.2"/>
<line x1="1383.4" y1="491.0" x2="1383.4" y2="496.0" stroke="#000" stroke-width="1.2"/>
<line x1="1387.2" y1="491.0" x2="1387.2" y2="496.0" stroke="#000" stroke-width="1.2"/>
<line x1="1389.1" y1="491.0" x2="1389.1" y2="496.0" stroke="#000" stroke-width="1.2"/>
<line x1="1391.0" y1="491.0" x2="1391.0" y2="496.0" stroke="#000" stroke-width="1.2"/>
<line x1="1398.8" y1="491.0" x2="1398.8" y2="496.0" stroke="#000" stroke-width="1.2"/>
<line x1="1405.3" y1="491.0" x2="1405.3" y2="496.0" stroke="#000" stroke-width="1.2"/>
<line x1="1411.8" y1="491.0" x2="1411.8" y2="496.0" stroke="#000" stroke-width="1.2"/>
<line x1="1423.1" y1="491.0" x2="1423.1" y2="496.0" stroke="#000" stroke-width="1.2"/>
<line x1="1428.7" y1="491.0" x2="1428.7" y2="496.0" stroke="#000" stroke-width="1.2"/>
<line x1="1433.6" y1="491.0" x2="1433.6" y2="496.0" stroke="#000" stroke-width="1.2"/>
<line x1="1436.8" y1="491.0" x2="1436.8" y2="496.0" stroke="#000" stroke-width="1.2"/>
<line x1="1471.5" y1="491.0" x2="1471.5" y2="496.0" stroke="#000" stroke-width="1.2"/>
<line x1="1488.5" y1="491.0" x2="1488.5" y2="496.0" stroke="#000" stroke-width="1.2"/>
<line x1="1500.6" y1="491.0" x2="1500.6" y2="496.0" stroke="#000" stroke-width="1.2"/>
<line x1="1515.9" y1="491.0" x2="1515.9" y2="496.0" stroke="#000" stroke-width="1.2"/>
<line x1="1521.6" y1="491.0" x2="1521.6" y2="496.0" stroke="#000" stroke-width="1.2"/>
<line x1="1526.4" y1="491.0" x2="1526.4" y2="496.0" stroke="#000" stroke-width="1.2"/>
<line x1="1530.5" y1="491.0" x2="1530.5" y2="496.0" stroke="#000" stroke-width="1.2"/>
<line x1="1559.6" y1="491.0" x2="1559.6" y2="496.0" stroke="#000" stroke-width="1.2"/>
<line x1="1574.9" y1="491.0" x2="1574.9" y2="496.0" stroke="#000" stroke-width="1.2"/>
<line x1="1583.0" y1="491.0" x2="1583.0" y2="496.0" stroke="#000" stroke-width="1.2"/>
<line x1="1597.5" y1="491.0" x2="1597.5" y2="496.0" stroke="#000" stroke-width="1.2"/>
<line x1="1602.4" y1="491.0" x2="1602.4" y2="496.0" stroke="#000" stroke-width="1.2"/>
<line x1="1607.2" y1="491.0" x2="1607.2" y2="496.0" stroke="#000" stroke-width="1.2"/>
<line x1="1611.2" y1="491.0" x2="1611.2" y2="496.0" stroke="#000" stroke-width="1.2"/>
<line x1="1637.9" y1="491.0" x2="1637.9" y2="496.0" stroke="#000" stroke-width="1.2"/>
<text x="1408.0" y="529.6" font-size="26" textLength="140.7" lengthAdjust="spacingAndGlyphs">HLA-1–APC</text>
<text x="0" y="0" font-size="40" font-weight="bold" transform="translate(1694.0 30.8) scale(1.17 1)">d</text>
<text x="1865.2" y="62.7" font-size="25.7" textLength="254.6" lengthAdjust="spacingAndGlyphs">Cumulative stability</text>
<text x="1864.0" y="94.0" font-size="25.7" textLength="255.8" lengthAdjust="spacingAndGlyphs">assay data (B*35:01)</text>
<line x1="1835.9" y1="106.0" x2="1835.9" y2="477.0" stroke="#3a3a3a" stroke-width="1.6"/>
<line x1="1828.5" y1="469.9" x2="1836.0" y2="469.9" stroke="#3a3a3a" stroke-width="1.3"/>
<line x1="1828.5" y1="462.5" x2="1836.0" y2="462.5" stroke="#3a3a3a" stroke-width="1.3"/>
<line x1="1826.0" y1="455.9" x2="1836.0" y2="455.9" stroke="#3a3a3a" stroke-width="1.6"/>
<line x1="1828.5" y1="412.3" x2="1836.0" y2="412.3" stroke="#3a3a3a" stroke-width="1.3"/>
<line x1="1828.5" y1="386.8" x2="1836.0" y2="386.8" stroke="#3a3a3a" stroke-width="1.3"/>
<line x1="1828.5" y1="368.7" x2="1836.0" y2="368.7" stroke="#3a3a3a" stroke-width="1.3"/>
<line x1="1828.5" y1="354.6" x2="1836.0" y2="354.6" stroke="#3a3a3a" stroke-width="1.3"/>
<line x1="1828.5" y1="343.1" x2="1836.0" y2="343.1" stroke="#3a3a3a" stroke-width="1.3"/>
<line x1="1828.5" y1="333.4" x2="1836.0" y2="333.4" stroke="#3a3a3a" stroke-width="1.3"/>
<line x1="1828.5" y1="325.0" x2="1836.0" y2="325.0" stroke="#3a3a3a" stroke-width="1.3"/>
<line x1="1828.5" y1="317.6" x2="1836.0" y2="317.6" stroke="#3a3a3a" stroke-width="1.3"/>
<line x1="1826.0" y1="311.0" x2="1836.0" y2="311.0" stroke="#3a3a3a" stroke-width="1.6"/>
<line x1="1828.5" y1="267.4" x2="1836.0" y2="267.4" stroke="#3a3a3a" stroke-width="1.3"/>
<line x1="1828.5" y1="241.9" x2="1836.0" y2="241.9" stroke="#3a3a3a" stroke-width="1.3"/>
<line x1="1828.5" y1="223.8" x2="1836.0" y2="223.8" stroke="#3a3a3a" stroke-width="1.3"/>
<line x1="1828.5" y1="209.7" x2="1836.0" y2="209.7" stroke="#3a3a3a" stroke-width="1.3"/>
<line x1="1828.5" y1="198.2" x2="1836.0" y2="198.2" stroke="#3a3a3a" stroke-width="1.3"/>
<line x1="1828.5" y1="188.5" x2="1836.0" y2="188.5" stroke="#3a3a3a" stroke-width="1.3"/>
<line x1="1828.5" y1="180.1" x2="1836.0" y2="180.1" stroke="#3a3a3a" stroke-width="1.3"/>
<line x1="1828.5" y1="172.7" x2="1836.0" y2="172.7" stroke="#3a3a3a" stroke-width="1.3"/>
<line x1="1826.0" y1="166.1" x2="1836.0" y2="166.1" stroke="#3a3a3a" stroke-width="1.6"/>
<line x1="1828.5" y1="122.5" x2="1836.0" y2="122.5" stroke="#3a3a3a" stroke-width="1.3"/>
<text x="1778.4" y="175.6" font-size="21.8" textLength="33.7" lengthAdjust="spacingAndGlyphs">1.0</text>
<text x="1780.7" y="321.5" font-size="21.8" textLength="31.5" lengthAdjust="spacingAndGlyphs">0.1</text>
<text x="1764.5" y="465.4" font-size="21.8" textLength="47.7" lengthAdjust="spacingAndGlyphs">0.01</text>
<text x="0" y="0" font-size="27.5" text-anchor="middle" transform="translate(1719.3 297.4) rotate(-90)" textLength="281.2" lengthAdjust="spacingAndGlyphs">Normalized anti-HLA-1</text>
<text x="0" y="0" font-size="27.5" text-anchor="middle" transform="translate(1752.0 295.3) rotate(-90)" textLength="118.8" lengthAdjust="spacingAndGlyphs">–APC MFI</text>
<line x1="1856.0" y1="165.4" x2="2126.0" y2="165.4" stroke="#000" stroke-width="3" stroke-dasharray="10.4 5.0"/>
<line x1="1852.7" y1="492.5" x2="2128.0" y2="492.5" stroke="#3a3a3a" stroke-width="1.6"/>
<circle cx="1949.3" cy="149.3" r="4.8" fill="#65b0fb" stroke="#000" stroke-width="1.6"/>
<circle cx="1960.2" cy="149.7" r="4.8" fill="#65b0fb" stroke="#000" stroke-width="1.6"/>
<circle cx="1970.2" cy="150.4" r="4.8" fill="#65b0fb" stroke="#000" stroke-width="1.6"/>
<circle cx="1979.4" cy="152.0" r="4.8" fill="#65b0fb" stroke="#000" stroke-width="1.6"/>
<circle cx="1989.4" cy="152.0" r="4.8" fill="#65b0fb" stroke="#000" stroke-width="1.6"/>
<circle cx="1999.2" cy="152.0" r="4.8" fill="#65b0fb" stroke="#000" stroke-width="1.6"/>
<circle cx="2008.5" cy="150.9" r="4.8" fill="#65b0fb" stroke="#000" stroke-width="1.6"/>
<circle cx="2018.9" cy="149.3" r="4.8" fill="#65b0fb" stroke="#000" stroke-width="1.6"/>
<circle cx="1989.4" cy="155.4" r="4.8" fill="#65b0fb" stroke="#000" stroke-width="1.6"/>
<circle cx="1952.7" cy="143.9" r="4.8" fill="#65b0fb" stroke="#000" stroke-width="1.6"/>
<circle cx="1962.0" cy="145.1" r="4.8" fill="#65b0fb" stroke="#000" stroke-width="1.6"/>
<circle cx="1972.0" cy="146.2" r="4.8" fill="#65b0fb" stroke="#000" stroke-width="1.6"/>
<circle cx="1979.4" cy="141.6" r="4.8" fill="#65b0fb" stroke="#000" stroke-width="1.6"/>
<circle cx="1989.4" cy="142.1" r="4.8" fill="#65b0fb" stroke="#000" stroke-width="1.6"/>
<circle cx="1996.2" cy="146.2" r="4.8" fill="#65b0fb" stroke="#000" stroke-width="1.6"/>
<circle cx="2006.1" cy="145.1" r="4.8" fill="#65b0fb" stroke="#000" stroke-width="1.6"/>
<circle cx="2016.1" cy="143.9" r="4.8" fill="#65b0fb" stroke="#000" stroke-width="1.6"/>
<circle cx="1979.4" cy="134.2" r="4.8" fill="#65b0fb" stroke="#000" stroke-width="1.6"/>
<circle cx="1989.4" cy="134.2" r="4.8" fill="#65b0fb" stroke="#000" stroke-width="1.6"/>
<circle cx="1989.4" cy="122.6" r="4.8" fill="#65b0fb" stroke="#000" stroke-width="1.6"/>
<circle cx="1997.5" cy="162.5" r="4.8" fill="#65b0fb" stroke="#000" stroke-width="1.6"/>
<circle cx="1979.4" cy="164.8" r="4.8" fill="#65b0fb" stroke="#000" stroke-width="1.6"/>
<circle cx="1989.4" cy="166.0" r="4.8" fill="#65b0fb" stroke="#000" stroke-width="1.6"/>
<circle cx="1989.4" cy="185.7" r="4.8" fill="#65b0fb" stroke="#000" stroke-width="1.6"/>
<circle cx="1970.9" cy="342.9" r="4.6" fill="#9a9a9a" stroke="#000" stroke-width="1.6"/>
<circle cx="1998.7" cy="363.3" r="4.6" fill="#9a9a9a" stroke="#000" stroke-width="1.6"/>
<circle cx="2009.2" cy="362.6" r="4.6" fill="#9a9a9a" stroke="#000" stroke-width="1.6"/>
<circle cx="1979.0" cy="440.4" r="4.6" fill="#9a9a9a" stroke="#000" stroke-width="1.6"/>
<circle cx="1989.4" cy="456.8" r="4.6" fill="#9a9a9a" stroke="#000" stroke-width="1.6"/>
<text x="0" y="0" font-size="40" font-weight="bold" transform="translate(-0.8 605.8) scale(1.17 1)">e</text>
<text x="233.6" y="610.9" font-size="25.3" textLength="392.1" lengthAdjust="spacingAndGlyphs">Cumulative stability assay data</text>
<text x="324.4" y="641.9" font-size="25.3" textLength="217.6" lengthAdjust="spacingAndGlyphs">(all HLA-1 alleles)</text>
<text x="407.1" y="685.7" font-size="34" textLength="58.8" lengthAdjust="spacingAndGlyphs">****</text>
<path d="M283.4,688.6 L283.4,682.1 L588.5,682.1 L588.5,688.6" fill="none" stroke="#404040" stroke-width="1.6"/>
<line x1="118.0" y1="681.7" x2="118.0" y2="1099.7" stroke="#3a3a3a" stroke-width="1.5"/>
<line x1="110.5" y1="1091.9" x2="118.0" y2="1091.9" stroke="#3a3a3a" stroke-width="1.2"/>
<line x1="110.5" y1="1084.9" x2="118.0" y2="1084.9" stroke="#3a3a3a" stroke-width="1.2"/>
<line x1="108.0" y1="1078.7" x2="118.0" y2="1078.7" stroke="#3a3a3a" stroke-width="1.5"/>
<line x1="110.5" y1="1037.6" x2="118.0" y2="1037.6" stroke="#3a3a3a" stroke-width="1.2"/>
<line x1="110.5" y1="1013.6" x2="118.0" y2="1013.6" stroke="#3a3a3a" stroke-width="1.2"/>
<line x1="110.5" y1="996.5" x2="118.0" y2="996.5" stroke="#3a3a3a" stroke-width="1.2"/>
<line x1="110.5" y1="983.3" x2="118.0" y2="983.3" stroke="#3a3a3a" stroke-width="1.2"/>
<line x1="110.5" y1="972.5" x2="118.0" y2="972.5" stroke="#3a3a3a" stroke-width="1.2"/>
<line x1="110.5" y1="963.3" x2="118.0" y2="963.3" stroke="#3a3a3a" stroke-width="1.2"/>
<line x1="110.5" y1="955.4" x2="118.0" y2="955.4" stroke="#3a3a3a" stroke-width="1.2"/>
<line x1="110.5" y1="948.4" x2="118.0" y2="948.4" stroke="#3a3a3a" stroke-width="1.2"/>
<line x1="108.0" y1="942.2" x2="118.0" y2="942.2" stroke="#3a3a3a" stroke-width="1.5"/>
<line x1="110.5" y1="901.1" x2="118.0" y2="901.1" stroke="#3a3a3a" stroke-width="1.2"/>
<line x1="110.5" y1="877.1" x2="118.0" y2="877.1" stroke="#3a3a3a" stroke-width="1.2"/>
<line x1="110.5" y1="860.0" x2="118.0" y2="860.0" stroke="#3a3a3a" stroke-width="1.2"/>
<line x1="110.5" y1="846.8" x2="118.0" y2="846.8" stroke="#3a3a3a" stroke-width="1.2"/>
<line x1="110.5" y1="836.0" x2="118.0" y2="836.0" stroke="#3a3a3a" stroke-width="1.2"/>
<line x1="110.5" y1="826.8" x2="118.0" y2="826.8" stroke="#3a3a3a" stroke-width="1.2"/>
<line x1="110.5" y1="818.9" x2="118.0" y2="818.9" stroke="#3a3a3a" stroke-width="1.2"/>
<line x1="110.5" y1="811.9" x2="118.0" y2="811.9" stroke="#3a3a3a" stroke-width="1.2"/>
<line x1="108.0" y1="805.7" x2="118.0" y2="805.7" stroke="#3a3a3a" stroke-width="1.5"/>
<line x1="110.5" y1="764.6" x2="118.0" y2="764.6" stroke="#3a3a3a" stroke-width="1.2"/>
<line x1="110.5" y1="740.6" x2="118.0" y2="740.6" stroke="#3a3a3a" stroke-width="1.2"/>
<line x1="110.5" y1="723.5" x2="118.0" y2="723.5" stroke="#3a3a3a" stroke-width="1.2"/>
<line x1="110.5" y1="710.3" x2="118.0" y2="710.3" stroke="#3a3a3a" stroke-width="1.2"/>
<line x1="110.5" y1="699.5" x2="118.0" y2="699.5" stroke="#3a3a3a" stroke-width="1.2"/>
<line x1="110.5" y1="690.3" x2="118.0" y2="690.3" stroke="#3a3a3a" stroke-width="1.2"/>
<line x1="110.5" y1="682.4" x2="118.0" y2="682.4" stroke="#3a3a3a" stroke-width="1.2"/>
<text x="65.4" y="813.6" font-size="21.8" textLength="31.6" lengthAdjust="spacingAndGlyphs">1.0</text>
<text x="66.3" y="949.5" font-size="21.8" textLength="31.9" lengthAdjust="spacingAndGlyphs">0.1</text>
<text x="50.8" y="1088.0" font-size="21.8" textLength="47.4" lengthAdjust="spacingAndGlyphs">0.01</text>
<text x="0" y="0" font-size="28" text-anchor="middle" transform="translate(28.8 867.7) rotate(-90)" textLength="316.4" lengthAdjust="spacingAndGlyphs">Normalized anti-HLA MFI</text>
<rect x="164.3" y="992.1" width="242.2" height="88.9" fill="#e0e0e0" stroke="#6b6b6b" stroke-width="2.6"/>
<line x1="285.6" y1="992.1" x2="285.6" y2="948.2" stroke="#6b6b6b" stroke-width="2.4"/>
<line x1="224.6" y1="948.2" x2="347.4" y2="948.2" stroke="#6b6b6b" stroke-width="2.6"/>
<path d="M285.9,867.0 L290.5,875.0 L285.9,883.0 L281.2,875.0 Z" fill="#6b6b6b"/>
<path d="M285.9,900.6 L290.5,908.6 L285.9,916.6 L281.2,908.6 Z" fill="#6b6b6b"/>
<path d="M285.9,903.5 L290.5,911.5 L285.9,919.5 L281.2,911.5 Z" fill="#6b6b6b"/>
<path d="M285.9,906.5 L290.5,914.5 L285.9,922.5 L281.2,914.5 Z" fill="#6b6b6b"/>
<path d="M285.9,909.4 L290.5,917.4 L285.9,925.4 L281.2,917.4 Z" fill="#6b6b6b"/>
<path d="M285.9,933.8 L290.5,941.8 L285.9,949.8 L281.2,941.8 Z" fill="#6b6b6b"/>
<rect x="466.8" y="806.4" width="242.9" height="102.9" fill="#7bb2eb" stroke="#6b6b6b" stroke-width="2.6"/>
<line x1="466.8" y1="833.1" x2="709.7" y2="833.1" stroke="#6b6b6b" stroke-width="2.6"/>
<line x1="588.4" y1="806.4" x2="588.4" y2="763.3" stroke="#6b6b6b" stroke-width="2.4"/>
<line x1="526.6" y1="763.3" x2="649.5" y2="763.3" stroke="#6b6b6b" stroke-width="2.6"/>
<line x1="588.4" y1="909.3" x2="588.4" y2="1081.0" stroke="#6b6b6b" stroke-width="2.4"/>
<line x1="526.6" y1="1081.0" x2="649.5" y2="1081.0" stroke="#6b6b6b" stroke-width="2.6"/>
<path d="M588.4,692.7 L593.0,700.7 L588.4,708.7 L583.8,700.7 Z" fill="#6b6b6b"/>
<path d="M588.4,713.3 L593.0,721.3 L588.4,729.3 L583.8,721.3 Z" fill="#6b6b6b"/>
<path d="M588.4,743.4 L593.0,751.4 L588.4,759.4 L583.8,751.4 Z" fill="#6b6b6b"/>
<line x1="133.3" y1="1120.1" x2="740.2" y2="1120.1" stroke="#3a3a3a" stroke-width="1.6"/>
<text x="143.3" y="1152.6" font-size="27.5" textLength="283.6" lengthAdjust="spacingAndGlyphs">Predicted non-binders</text>
<text x="474.1" y="1152.6" font-size="27.5" textLength="226.0" lengthAdjust="spacingAndGlyphs">Predicted binders</text>
<text x="242.8" y="1186.2" font-size="27.5" textLength="80" lengthAdjust="spacingAndGlyphs"><tspan font-style="italic">N</tspan> = 66</text>
<text x="544.6" y="1186.2" font-size="27.5" textLength="94.2" lengthAdjust="spacingAndGlyphs"><tspan font-style="italic">N</tspan> = 337</text>
<text x="0" y="0" font-size="40" font-weight="bold" transform="translate(831.8 605.0) scale(1.17 1)">f</text>
<line x1="931.2" y1="690.6" x2="931.2" y2="1100.8" stroke="#3a3a3a" stroke-width="1.6"/>
<line x1="921.0" y1="691.0" x2="931.2" y2="691.0" stroke="#3a3a3a" stroke-width="1.6"/>
<text x="879.6" y="698.5" font-size="21.5" textLength="31.1" lengthAdjust="spacingAndGlyphs">1.8</text>
<line x1="921.0" y1="735.2" x2="931.2" y2="735.2" stroke="#3a3a3a" stroke-width="1.6"/>
<text x="879.6" y="744.6" font-size="21.5" textLength="31.1" lengthAdjust="spacingAndGlyphs">1.6</text>
<line x1="921.0" y1="782.5" x2="931.2" y2="782.5" stroke="#3a3a3a" stroke-width="1.6"/>
<text x="879.6" y="791.3" font-size="21.5" textLength="31.1" lengthAdjust="spacingAndGlyphs">1.4</text>
<line x1="921.0" y1="824.8" x2="931.2" y2="824.8" stroke="#3a3a3a" stroke-width="1.6"/>
<text x="879.6" y="834.3" font-size="21.5" textLength="31.1" lengthAdjust="spacingAndGlyphs">1.2</text>
<line x1="921.0" y1="871.7" x2="931.2" y2="871.7" stroke="#3a3a3a" stroke-width="1.6"/>
<text x="879.6" y="879.2" font-size="21.5" textLength="31.1" lengthAdjust="spacingAndGlyphs">1.0</text>
<line x1="921.0" y1="918.9" x2="931.2" y2="918.9" stroke="#3a3a3a" stroke-width="1.6"/>
<text x="874.8" y="927.2" font-size="21.5" textLength="36.0" lengthAdjust="spacingAndGlyphs">0.8</text>
<line x1="921.0" y1="957.4" x2="931.2" y2="957.4" stroke="#3a3a3a" stroke-width="1.6"/>
<text x="874.8" y="965.2" font-size="21.5" textLength="36.0" lengthAdjust="spacingAndGlyphs">0.6</text>
<line x1="921.0" y1="1008.4" x2="931.2" y2="1008.4" stroke="#3a3a3a" stroke-width="1.6"/>
<text x="874.8" y="1016.7" font-size="21.5" textLength="36.0" lengthAdjust="spacingAndGlyphs">0.4</text>
<line x1="921.0" y1="1052.5" x2="931.2" y2="1052.5" stroke="#3a3a3a" stroke-width="1.6"/>
<text x="874.8" y="1059.7" font-size="21.5" textLength="36.0" lengthAdjust="spacingAndGlyphs">0.2</text>
<line x1="921.0" y1="1100.0" x2="931.2" y2="1100.0" stroke="#3a3a3a" stroke-width="1.6"/>
<text x="895.8" y="1107.3" font-size="21.5" textLength="14.7" lengthAdjust="spacingAndGlyphs">0</text>
<text x="0" y="0" font-size="24.6" text-anchor="middle" transform="translate(856.2 896.9) rotate(-90)" textLength="318.4" lengthAdjust="spacingAndGlyphs">Normalized anti-HLA MFI</text>
<text x="973.1" y="607.2" font-size="27" textLength="164.7" lengthAdjust="spacingAndGlyphs">MUNIS score</text>
<text x="958.0" y="639.9" font-size="27" textLength="191.9" lengthAdjust="spacingAndGlyphs">threshold: 0.01</text>
<text x="1026.1" y="687.6" font-size="34" textLength="57.6" lengthAdjust="spacingAndGlyphs">****</text>
<path d="M960.2,691.0 L960.2,684.4 L1154.1,684.4 L1154.1,691.0" fill="none" stroke="#222" stroke-width="1.5"/>
<text x="988.8" y="717.5" font-size="22.3" textLength="110.9" lengthAdjust="spacingAndGlyphs"><tspan font-style="italic">P</tspan> = 2.1 × 10</text>
<text x="1100.9" y="706.5" font-size="16.3" textLength="28.0" lengthAdjust="spacingAndGlyphs">−24</text>
<g stroke="#a8a8a8" stroke-width="2.5" stroke-dasharray="8.5 5" fill="none">
<line x1="956.9" y1="1062.0" x2="1152.4" y2="795.4"/>
<line x1="956.9" y1="1077.0" x2="1152.4" y2="839.9"/>
<line x1="956.9" y1="1082.0" x2="1152.4" y2="854.6"/>
<line x1="956.9" y1="1078.0" x2="1152.4" y2="880.8"/>
<line x1="956.9" y1="1091.0" x2="1152.4" y2="886.5"/>
<line x1="956.9" y1="1086.5" x2="1152.4" y2="899.7"/>
<line x1="956.9" y1="1089.0" x2="1152.4" y2="926.0"/>
<line x1="956.9" y1="1081.0" x2="1152.4" y2="930.2"/>
<line x1="956.9" y1="1088.0" x2="1152.4" y2="949.1"/>
<line x1="956.9" y1="1076.0" x2="1152.4" y2="955.3"/>
<line x1="956.9" y1="1080.0" x2="1152.4" y2="964.6"/>
<line x1="956.9" y1="1084.5" x2="1152.4" y2="984.9"/>
<line x1="956.9" y1="1092.5" x2="1152.4" y2="1000.4"/>
<line x1="956.9" y1="1079.5" x2="1152.4" y2="1013.9"/>
<line x1="956.9" y1="1090.0" x2="1152.4" y2="1043.5"/>
<line x1="956.9" y1="1080.4" x2="1152.4" y2="930.2" stroke-dashoffset="2.9"/>
<line x1="956.9" y1="1080.5" x2="1152.4" y2="955.3" stroke-dashoffset="9.9"/>
<line x1="956.9" y1="1090.9" x2="1152.4" y2="854.6" stroke-dashoffset="7.6"/>
<line x1="956.9" y1="1091.0" x2="1152.4" y2="964.6" stroke-dashoffset="6.9"/>
<line x1="956.9" y1="1073.0" x2="1152.4" y2="930.2" stroke-dashoffset="2.7"/>
<line x1="956.9" y1="1089.2" x2="1152.4" y2="955.3" stroke-dashoffset="3.5"/>
</g>
<clipPath id="gc0"><rect x="946.9" y="1040" width="20" height="56.8"/></clipPath>
<g clip-path="url(#gc0)">
<ellipse cx="956.9" cy="1096.5" rx="5.4" ry="4.6" fill="#a0a0a0" stroke="#000" stroke-width="1.6"/>
<ellipse cx="956.9" cy="1094.5" rx="5.4" ry="4.6" fill="#a0a0a0" stroke="#000" stroke-width="1.6"/>
<ellipse cx="956.9" cy="1092.0" rx="5.4" ry="4.6" fill="#a0a0a0" stroke="#000" stroke-width="1.6"/>
<ellipse cx="956.9" cy="1086.0" rx="5.4" ry="4.6" fill="#a0a0a0" stroke="#000" stroke-width="1.6"/>
<ellipse cx="956.9" cy="1083.5" rx="5.4" ry="4.6" fill="#a0a0a0" stroke="#000" stroke-width="1.6"/>
<ellipse cx="956.9" cy="1078.7" rx="5.4" ry="4.6" fill="#a0a0a0" stroke="#000" stroke-width="1.6"/>
<ellipse cx="956.9" cy="1062.0" rx="5.4" ry="4.6" fill="#a0a0a0" stroke="#000" stroke-width="1.6"/>
</g>
<ellipse cx="1152.4" cy="795.4" rx="5.65" ry="4.85" fill="#65b0fb" stroke="#000" stroke-width="1.6"/>
<ellipse cx="1152.4" cy="839.9" rx="5.65" ry="4.85" fill="#65b0fb" stroke="#000" stroke-width="1.6"/>
<ellipse cx="1152.4" cy="854.6" rx="5.65" ry="4.85" fill="#65b0fb" stroke="#000" stroke-width="1.6"/>
<ellipse cx="1152.4" cy="880.8" rx="5.65" ry="4.85" fill="#65b0fb" stroke="#000" stroke-width="1.6"/>
<ellipse cx="1152.4" cy="886.5" rx="5.65" ry="4.85" fill="#65b0fb" stroke="#000" stroke-width="1.6"/>
<ellipse cx="1152.4" cy="899.7" rx="5.65" ry="4.85" fill="#65b0fb" stroke="#000" stroke-width="1.6"/>
<ellipse cx="1152.4" cy="926.0" rx="5.65" ry="4.85" fill="#65b0fb" stroke="#000" stroke-width="1.6"/>
<ellipse cx="1152.4" cy="930.2" rx="5.65" ry="4.85" fill="#65b0fb" stroke="#000" stroke-width="1.6"/>
<ellipse cx="1152.4" cy="949.1" rx="5.65" ry="4.85" fill="#65b0fb" stroke="#000" stroke-width="1.6"/>
<ellipse cx="1152.4" cy="955.3" rx="5.65" ry="4.85" fill="#65b0fb" stroke="#000" stroke-width="1.6"/>
<ellipse cx="1152.4" cy="964.6" rx="5.65" ry="4.85" fill="#65b0fb" stroke="#000" stroke-width="1.6"/>
<ellipse cx="1152.4" cy="984.9" rx="5.65" ry="4.85" fill="#65b0fb" stroke="#000" stroke-width="1.6"/>
<ellipse cx="1152.4" cy="1000.4" rx="5.65" ry="4.85" fill="#65b0fb" stroke="#000" stroke-width="1.6"/>
<ellipse cx="1152.4" cy="1013.9" rx="5.65" ry="4.85" fill="#65b0fb" stroke="#000" stroke-width="1.6"/>
<ellipse cx="1152.4" cy="1043.5" rx="5.65" ry="4.85" fill="#65b0fb" stroke="#000" stroke-width="1.6"/>
<line x1="948.0" y1="1116.4" x2="1166.6" y2="1116.4" stroke="#3a3a3a" stroke-width="1.6"/>
<line x1="958.6" y1="1116.4" x2="958.6" y2="1126.9" stroke="#3a3a3a" stroke-width="1.6"/>
<line x1="1153.7" y1="1116.4" x2="1153.7" y2="1126.9" stroke="#3a3a3a" stroke-width="1.6"/>
<text x="952.6" y="1156.5" font-size="26" textLength="14.6" lengthAdjust="spacingAndGlyphs">–</text>
<text x="1153.7" y="1159.0" font-size="26" text-anchor="middle">+</text>
<text x="943.0" y="1204.5" font-size="26.5" textLength="33.6" lengthAdjust="spacingAndGlyphs">66</text>
<text x="1130.3" y="1204.5" font-size="26.5" textLength="46.6" lengthAdjust="spacingAndGlyphs">337</text>
<text x="1221.4" y="606.8" font-size="27" textLength="163.8" lengthAdjust="spacingAndGlyphs">MUNIS score</text>
<text x="1213.6" y="639.1" font-size="27" textLength="178.7" lengthAdjust="spacingAndGlyphs">threshold: 0.5</text>
<text x="1276.8" y="687.6" font-size="34" textLength="58.6" lengthAdjust="spacingAndGlyphs">****</text>
<path d="M1210.2,691.0 L1210.2,684.4 L1404.5,684.4 L1404.5,691.0" fill="none" stroke="#222" stroke-width="1.5"/>
<text x="1236.8" y="717.8" font-size="22.3" textLength="110.0" lengthAdjust="spacingAndGlyphs"><tspan font-style="italic">P</tspan> = 1.2 × 10</text>
<text x="1348.4" y="706.8" font-size="16.3" textLength="27.2" lengthAdjust="spacingAndGlyphs">−25</text>
<g stroke="#a8a8a8" stroke-width="2.5" stroke-dasharray="8.5 5" fill="none">
<line x1="1204.7" y1="1062.0" x2="1400.4" y2="794.8"/>
<line x1="1204.7" y1="1083.0" x2="1400.4" y2="799.6"/>
<line x1="1204.7" y1="1080.0" x2="1400.4" y2="855.2"/>
<line x1="1204.7" y1="1091.0" x2="1400.4" y2="880.5"/>
<line x1="1204.7" y1="1078.0" x2="1400.4" y2="886.5"/>
<line x1="1204.7" y1="1092.5" x2="1400.4" y2="899.7"/>
<line x1="1204.7" y1="1084.5" x2="1400.4" y2="906.8"/>
<line x1="1204.7" y1="1077.0" x2="1400.4" y2="949.1"/>
<line x1="1204.7" y1="1082.0" x2="1400.4" y2="956.1"/>
<line x1="1204.7" y1="1089.0" x2="1400.4" y2="962.6"/>
<line x1="1204.7" y1="1086.5" x2="1400.4" y2="980.9"/>
<line x1="1204.7" y1="1081.0" x2="1400.4" y2="986.6"/>
<line x1="1204.7" y1="1076.0" x2="1400.4" y2="1000.4"/>
<line x1="1204.7" y1="1088.0" x2="1400.4" y2="1012.5"/>
<line x1="1204.7" y1="1079.5" x2="1400.4" y2="1038.8"/>
<line x1="1204.7" y1="1073.2" x2="1400.4" y2="980.9" stroke-dashoffset="2.5"/>
<line x1="1204.7" y1="1082.6" x2="1400.4" y2="986.6" stroke-dashoffset="9.3"/>
<line x1="1204.7" y1="1083.7" x2="1400.4" y2="956.1" stroke-dashoffset="5.4"/>
<line x1="1204.7" y1="1077.0" x2="1400.4" y2="899.7" stroke-dashoffset="2.2"/>
<line x1="1204.7" y1="1076.9" x2="1400.4" y2="1012.5" stroke-dashoffset="6.9"/>
<line x1="1204.7" y1="1081.9" x2="1400.4" y2="962.6" stroke-dashoffset="4.1"/>
</g>
<clipPath id="gc1"><rect x="1194.7" y="1040" width="20" height="56.8"/></clipPath>
<g clip-path="url(#gc1)">
<ellipse cx="1204.7" cy="1096.5" rx="5.4" ry="4.6" fill="#a0a0a0" stroke="#000" stroke-width="1.6"/>
<ellipse cx="1204.7" cy="1094.5" rx="5.4" ry="4.6" fill="#a0a0a0" stroke="#000" stroke-width="1.6"/>
<ellipse cx="1204.7" cy="1092.0" rx="5.4" ry="4.6" fill="#a0a0a0" stroke="#000" stroke-width="1.6"/>
<ellipse cx="1204.7" cy="1086.0" rx="5.4" ry="4.6" fill="#a0a0a0" stroke="#000" stroke-width="1.6"/>
<ellipse cx="1204.7" cy="1083.5" rx="5.4" ry="4.6" fill="#a0a0a0" stroke="#000" stroke-width="1.6"/>
<ellipse cx="1204.7" cy="1078.7" rx="5.4" ry="4.6" fill="#a0a0a0" stroke="#000" stroke-width="1.6"/>
<ellipse cx="1204.7" cy="1062.0" rx="5.4" ry="4.6" fill="#a0a0a0" stroke="#000" stroke-width="1.6"/>
</g>
<ellipse cx="1400.4" cy="794.8" rx="5.65" ry="4.85" fill="#65b0fb" stroke="#000" stroke-width="1.6"/>
<ellipse cx="1400.4" cy="799.6" rx="5.65" ry="4.85" fill="#65b0fb" stroke="#000" stroke-width="1.6"/>
<ellipse cx="1400.4" cy="855.2" rx="5.65" ry="4.85" fill="#65b0fb" stroke="#000" stroke-width="1.6"/>
<ellipse cx="1400.4" cy="880.5" rx="5.65" ry="4.85" fill="#65b0fb" stroke="#000" stroke-width="1.6"/>
<ellipse cx="1400.4" cy="886.5" rx="5.65" ry="4.85" fill="#65b0fb" stroke="#000" stroke-width="1.6"/>
<ellipse cx="1400.4" cy="899.7" rx="5.65" ry="4.85" fill="#65b0fb" stroke="#000" stroke-width="1.6"/>
<ellipse cx="1400.4" cy="906.8" rx="5.65" ry="4.85" fill="#65b0fb" stroke="#000" stroke-width="1.6"/>
<ellipse cx="1400.4" cy="949.1" rx="5.65" ry="4.85" fill="#65b0fb" stroke="#000" stroke-width="1.6"/>
<ellipse cx="1400.4" cy="956.1" rx="5.65" ry="4.85" fill="#65b0fb" stroke="#000" stroke-width="1.6"/>
<ellipse cx="1400.4" cy="962.6" rx="5.65" ry="4.85" fill="#65b0fb" stroke="#000" stroke-width="1.6"/>
<ellipse cx="1400.4" cy="980.9" rx="5.65" ry="4.85" fill="#65b0fb" stroke="#000" stroke-width="1.6"/>
<ellipse cx="1400.4" cy="986.6" rx="5.65" ry="4.85" fill="#65b0fb" stroke="#000" stroke-width="1.6"/>
<ellipse cx="1400.4" cy="1000.4" rx="5.65" ry="4.85" fill="#65b0fb" stroke="#000" stroke-width="1.6"/>
<ellipse cx="1400.4" cy="1012.5" rx="5.65" ry="4.85" fill="#65b0fb" stroke="#000" stroke-width="1.6"/>
<ellipse cx="1400.4" cy="1038.8" rx="5.65" ry="4.85" fill="#65b0fb" stroke="#000" stroke-width="1.6"/>
<line x1="1195.0" y1="1115.8" x2="1413.7" y2="1115.8" stroke="#3a3a3a" stroke-width="1.6"/>
<line x1="1206.4" y1="1115.8" x2="1206.4" y2="1126.3" stroke="#3a3a3a" stroke-width="1.6"/>
<line x1="1400.8" y1="1115.8" x2="1400.8" y2="1126.3" stroke="#3a3a3a" stroke-width="1.6"/>
<text x="1200.4" y="1156.5" font-size="26" textLength="14.6" lengthAdjust="spacingAndGlyphs">–</text>
<text x="1400.8" y="1159.0" font-size="26" text-anchor="middle">+</text>
<text x="1191.7" y="1204.5" font-size="26.5" textLength="33.6" lengthAdjust="spacingAndGlyphs">66</text>
<text x="1379.1" y="1204.5" font-size="26.5" textLength="43.2" lengthAdjust="spacingAndGlyphs">318</text>
<text x="1473.4" y="609.3" font-size="27" textLength="164.3" lengthAdjust="spacingAndGlyphs">MUNIS score</text>
<text x="1465.6" y="641.6" font-size="27" textLength="179.2" lengthAdjust="spacingAndGlyphs">threshold: 0.7</text>
<text x="1528.0" y="687.6" font-size="34" textLength="58.4" lengthAdjust="spacingAndGlyphs">****</text>
<path d="M1458.2,691.0 L1458.2,684.4 L1652.5,684.4 L1652.5,691.0" fill="none" stroke="#222" stroke-width="1.5"/>
<text x="1488.7" y="717.8" font-size="22.3" textLength="113.5" lengthAdjust="spacingAndGlyphs"><tspan font-style="italic">P</tspan> = 1.6 × 10</text>
<text x="1602.8" y="706.8" font-size="16.3" textLength="27.2" lengthAdjust="spacingAndGlyphs">−26</text>
<g stroke="#a8a8a8" stroke-width="2.5" stroke-dasharray="8.5 5" fill="none">
<line x1="1453.3" y1="1062.0" x2="1648.7" y2="782.7"/>
<line x1="1453.3" y1="1080.0" x2="1648.7" y2="799.9"/>
<line x1="1453.3" y1="1089.0" x2="1648.7" y2="821.9"/>
<line x1="1453.3" y1="1083.0" x2="1648.7" y2="852.6"/>
<line x1="1453.3" y1="1084.5" x2="1648.7" y2="876.6"/>
<line x1="1453.3" y1="1082.0" x2="1648.7" y2="890.4"/>
<line x1="1453.3" y1="1077.0" x2="1648.7" y2="918.0"/>
<line x1="1453.3" y1="1079.5" x2="1648.7" y2="933.6"/>
<line x1="1453.3" y1="1092.5" x2="1648.7" y2="949.1"/>
<line x1="1453.3" y1="1088.0" x2="1648.7" y2="958.9"/>
<line x1="1453.3" y1="1091.0" x2="1648.7" y2="966.8"/>
<line x1="1453.3" y1="1076.0" x2="1648.7" y2="980.1"/>
<line x1="1453.3" y1="1081.0" x2="1648.7" y2="994.8"/>
<line x1="1453.3" y1="1086.5" x2="1648.7" y2="1012.5"/>
<line x1="1453.3" y1="1078.0" x2="1648.7" y2="1025.2"/>
<line x1="1453.3" y1="1073.6" x2="1648.7" y2="980.1" stroke-dashoffset="6.7"/>
<line x1="1453.3" y1="1089.5" x2="1648.7" y2="1012.5" stroke-dashoffset="3.8"/>
<line x1="1453.3" y1="1079.0" x2="1648.7" y2="994.8" stroke-dashoffset="6.0"/>
<line x1="1453.3" y1="1081.1" x2="1648.7" y2="1012.5" stroke-dashoffset="10.1"/>
<line x1="1453.3" y1="1081.5" x2="1648.7" y2="890.4" stroke-dashoffset="8.0"/>
<line x1="1453.3" y1="1086.6" x2="1648.7" y2="799.9" stroke-dashoffset="3.7"/>
</g>
<clipPath id="gc2"><rect x="1443.3" y="1040" width="20" height="56.8"/></clipPath>
<g clip-path="url(#gc2)">
<ellipse cx="1453.3" cy="1096.5" rx="5.4" ry="4.6" fill="#a0a0a0" stroke="#000" stroke-width="1.6"/>
<ellipse cx="1453.3" cy="1094.5" rx="5.4" ry="4.6" fill="#a0a0a0" stroke="#000" stroke-width="1.6"/>
<ellipse cx="1453.3" cy="1092.0" rx="5.4" ry="4.6" fill="#a0a0a0" stroke="#000" stroke-width="1.6"/>
<ellipse cx="1453.3" cy="1086.0" rx="5.4" ry="4.6" fill="#a0a0a0" stroke="#000" stroke-width="1.6"/>
<ellipse cx="1453.3" cy="1083.5" rx="5.4" ry="4.6" fill="#a0a0a0" stroke="#000" stroke-width="1.6"/>
<ellipse cx="1453.3" cy="1078.7" rx="5.4" ry="4.6" fill="#a0a0a0" stroke="#000" stroke-width="1.6"/>
<ellipse cx="1453.3" cy="1062.0" rx="5.4" ry="4.6" fill="#a0a0a0" stroke="#000" stroke-width="1.6"/>
</g>
<ellipse cx="1648.7" cy="782.7" rx="5.65" ry="4.85" fill="#65b0fb" stroke="#000" stroke-width="1.6"/>
<ellipse cx="1648.7" cy="799.9" rx="5.65" ry="4.85" fill="#65b0fb" stroke="#000" stroke-width="1.6"/>
<ellipse cx="1648.7" cy="821.9" rx="5.65" ry="4.85" fill="#65b0fb" stroke="#000" stroke-width="1.6"/>
<ellipse cx="1648.7" cy="852.6" rx="5.65" ry="4.85" fill="#65b0fb" stroke="#000" stroke-width="1.6"/>
<ellipse cx="1648.7" cy="876.6" rx="5.65" ry="4.85" fill="#65b0fb" stroke="#000" stroke-width="1.6"/>
<ellipse cx="1648.7" cy="890.4" rx="5.65" ry="4.85" fill="#65b0fb" stroke="#000" stroke-width="1.6"/>
<ellipse cx="1648.7" cy="918.0" rx="5.65" ry="4.85" fill="#65b0fb" stroke="#000" stroke-width="1.6"/>
<ellipse cx="1648.7" cy="933.6" rx="5.65" ry="4.85" fill="#65b0fb" stroke="#000" stroke-width="1.6"/>
<ellipse cx="1648.7" cy="949.1" rx="5.65" ry="4.85" fill="#65b0fb" stroke="#000" stroke-width="1.6"/>
<ellipse cx="1648.7" cy="958.9" rx="5.65" ry="4.85" fill="#65b0fb" stroke="#000" stroke-width="1.6"/>
<ellipse cx="1648.7" cy="966.8" rx="5.65" ry="4.85" fill="#65b0fb" stroke="#000" stroke-width="1.6"/>
<ellipse cx="1648.7" cy="980.1" rx="5.65" ry="4.85" fill="#65b0fb" stroke="#000" stroke-width="1.6"/>
<ellipse cx="1648.7" cy="994.8" rx="5.65" ry="4.85" fill="#65b0fb" stroke="#000" stroke-width="1.6"/>
<ellipse cx="1648.7" cy="1012.5" rx="5.65" ry="4.85" fill="#65b0fb" stroke="#000" stroke-width="1.6"/>
<ellipse cx="1648.7" cy="1025.2" rx="5.65" ry="4.85" fill="#65b0fb" stroke="#000" stroke-width="1.6"/>
<line x1="1443.6" y1="1116.4" x2="1663.0" y2="1116.4" stroke="#3a3a3a" stroke-width="1.6"/>
<line x1="1454.5" y1="1116.4" x2="1454.5" y2="1126.9" stroke="#3a3a3a" stroke-width="1.6"/>
<line x1="1650.0" y1="1116.4" x2="1650.0" y2="1126.9" stroke="#3a3a3a" stroke-width="1.6"/>
<text x="1448.5" y="1156.5" font-size="26" textLength="14.6" lengthAdjust="spacingAndGlyphs">–</text>
<text x="1650.0" y="1159.0" font-size="26" text-anchor="middle">+</text>
<text x="1440.2" y="1204.5" font-size="26.5" textLength="32.5" lengthAdjust="spacingAndGlyphs">66</text>
<text x="1624.9" y="1204.5" font-size="26.5" textLength="48.5" lengthAdjust="spacingAndGlyphs">285</text>
<text x="1724.1" y="606.9" font-size="27" textLength="164.6" lengthAdjust="spacingAndGlyphs">MUNIS score</text>
<text x="1716.6" y="638.9" font-size="27" textLength="179.9" lengthAdjust="spacingAndGlyphs">threshold: 0.9</text>
<text x="1778.8" y="687.6" font-size="34" textLength="59.0" lengthAdjust="spacingAndGlyphs">****</text>
<path d="M1705.6,691.0 L1705.6,684.4 L1899.8,684.4 L1899.8,691.0" fill="none" stroke="#222" stroke-width="1.5"/>
<text x="1724.7" y="712.8" font-size="22.3" textLength="118.3" lengthAdjust="spacingAndGlyphs"><tspan font-style="italic">P</tspan> = 4.9 × 10</text>
<text x="1843.6" y="701.8" font-size="16.3" textLength="27.2" lengthAdjust="spacingAndGlyphs">−28</text>
<g stroke="#a8a8a8" stroke-width="2.5" stroke-dasharray="8.5 5" fill="none">
<line x1="1701.3" y1="1062.0" x2="1897.5" y2="773.3"/>
<line x1="1701.3" y1="1083.0" x2="1897.5" y2="792.7"/>
<line x1="1701.3" y1="1082.0" x2="1897.5" y2="821.9"/>
<line x1="1701.3" y1="1088.0" x2="1897.5" y2="856.6"/>
<line x1="1701.3" y1="1091.0" x2="1897.5" y2="881.3"/>
<line x1="1701.3" y1="1076.0" x2="1897.5" y2="885.8"/>
<line x1="1701.3" y1="1079.5" x2="1897.5" y2="889.7"/>
<line x1="1701.3" y1="1077.0" x2="1897.5" y2="906.7"/>
<line x1="1701.3" y1="1080.0" x2="1897.5" y2="910.3"/>
<line x1="1701.3" y1="1090.0" x2="1897.5" y2="936.6"/>
<line x1="1701.3" y1="1092.5" x2="1897.5" y2="955.4"/>
<line x1="1701.3" y1="1086.5" x2="1897.5" y2="960.4"/>
<line x1="1701.3" y1="1078.0" x2="1897.5" y2="965.5"/>
<line x1="1701.3" y1="1084.5" x2="1897.5" y2="988.2"/>
<line x1="1701.3" y1="1081.0" x2="1897.5" y2="999.3"/>
<line x1="1701.3" y1="1087.4" x2="1897.5" y2="881.3" stroke-dashoffset="1.6"/>
<line x1="1701.3" y1="1080.0" x2="1897.5" y2="881.3" stroke-dashoffset="11.0"/>
<line x1="1701.3" y1="1073.6" x2="1897.5" y2="910.3" stroke-dashoffset="5.4"/>
<line x1="1701.3" y1="1077.6" x2="1897.5" y2="936.6" stroke-dashoffset="1.6"/>
<line x1="1701.3" y1="1089.3" x2="1897.5" y2="906.7" stroke-dashoffset="3.3"/>
<line x1="1701.3" y1="1091.7" x2="1897.5" y2="906.7" stroke-dashoffset="8.2"/>
</g>
<clipPath id="gc3"><rect x="1691.3" y="1040" width="20" height="56.8"/></clipPath>
<g clip-path="url(#gc3)">
<ellipse cx="1701.3" cy="1096.5" rx="5.4" ry="4.6" fill="#a0a0a0" stroke="#000" stroke-width="1.6"/>
<ellipse cx="1701.3" cy="1094.5" rx="5.4" ry="4.6" fill="#a0a0a0" stroke="#000" stroke-width="1.6"/>
<ellipse cx="1701.3" cy="1092.0" rx="5.4" ry="4.6" fill="#a0a0a0" stroke="#000" stroke-width="1.6"/>
<ellipse cx="1701.3" cy="1086.0" rx="5.4" ry="4.6" fill="#a0a0a0" stroke="#000" stroke-width="1.6"/>
<ellipse cx="1701.3" cy="1083.5" rx="5.4" ry="4.6" fill="#a0a0a0" stroke="#000" stroke-width="1.6"/>
<ellipse cx="1701.3" cy="1078.7" rx="5.4" ry="4.6" fill="#a0a0a0" stroke="#000" stroke-width="1.6"/>
<ellipse cx="1701.3" cy="1062.0" rx="5.4" ry="4.6" fill="#a0a0a0" stroke="#000" stroke-width="1.6"/>
</g>
<ellipse cx="1897.5" cy="773.3" rx="5.65" ry="4.85" fill="#65b0fb" stroke="#000" stroke-width="1.6"/>
<ellipse cx="1897.5" cy="792.7" rx="5.65" ry="4.85" fill="#65b0fb" stroke="#000" stroke-width="1.6"/>
<ellipse cx="1897.5" cy="821.9" rx="5.65" ry="4.85" fill="#65b0fb" stroke="#000" stroke-width="1.6"/>
<ellipse cx="1897.5" cy="856.6" rx="5.65" ry="4.85" fill="#65b0fb" stroke="#000" stroke-width="1.6"/>
<ellipse cx="1897.5" cy="881.3" rx="5.65" ry="4.85" fill="#65b0fb" stroke="#000" stroke-width="1.6"/>
<ellipse cx="1897.5" cy="885.8" rx="5.65" ry="4.85" fill="#65b0fb" stroke="#000" stroke-width="1.6"/>
<ellipse cx="1897.5" cy="889.7" rx="5.65" ry="4.85" fill="#65b0fb" stroke="#000" stroke-width="1.6"/>
<ellipse cx="1897.5" cy="906.7" rx="5.65" ry="4.85" fill="#65b0fb" stroke="#000" stroke-width="1.6"/>
<ellipse cx="1897.5" cy="910.3" rx="5.65" ry="4.85" fill="#65b0fb" stroke="#000" stroke-width="1.6"/>
<ellipse cx="1897.5" cy="936.6" rx="5.65" ry="4.85" fill="#65b0fb" stroke="#000" stroke-width="1.6"/>
<ellipse cx="1897.5" cy="955.4" rx="5.65" ry="4.85" fill="#65b0fb" stroke="#000" stroke-width="1.6"/>
<ellipse cx="1897.5" cy="960.4" rx="5.65" ry="4.85" fill="#65b0fb" stroke="#000" stroke-width="1.6"/>
<ellipse cx="1897.5" cy="965.5" rx="5.65" ry="4.85" fill="#65b0fb" stroke="#000" stroke-width="1.6"/>
<ellipse cx="1897.5" cy="988.2" rx="5.65" ry="4.85" fill="#65b0fb" stroke="#000" stroke-width="1.6"/>
<ellipse cx="1897.5" cy="999.3" rx="5.65" ry="4.85" fill="#65b0fb" stroke="#000" stroke-width="1.6"/>
<line x1="1691.2" y1="1115.4" x2="1910.3" y2="1115.4" stroke="#3a3a3a" stroke-width="1.6"/>
<line x1="1702.1" y1="1115.4" x2="1702.1" y2="1125.9" stroke="#3a3a3a" stroke-width="1.6"/>
<line x1="1897.7" y1="1115.4" x2="1897.7" y2="1125.9" stroke="#3a3a3a" stroke-width="1.6"/>
<text x="1696.1" y="1156.5" font-size="26" textLength="14.6" lengthAdjust="spacingAndGlyphs">–</text>
<text x="1897.7" y="1159.0" font-size="26" text-anchor="middle">+</text>
<text x="1687.5" y="1204.5" font-size="26.5" textLength="32.8" lengthAdjust="spacingAndGlyphs">66</text>
<text x="1875.6" y="1204.5" font-size="26.5" textLength="44.7" lengthAdjust="spacingAndGlyphs">219</text>
<text x="1965.6" y="605.9" font-size="27" textLength="164.6" lengthAdjust="spacingAndGlyphs">MUNIS score</text>
<text x="1949.3" y="638.9" font-size="27" textLength="196.9" lengthAdjust="spacingAndGlyphs">threshold: 0.95</text>
<text x="2031.0" y="687.6" font-size="34" textLength="57.6" lengthAdjust="spacingAndGlyphs">****</text>
<path d="M1952.3,691.0 L1952.3,684.4 L2147.0,684.4 L2147.0,691.0" fill="none" stroke="#222" stroke-width="1.5"/>
<text x="1982.8" y="717.8" font-size="22.3" textLength="113.4" lengthAdjust="spacingAndGlyphs"><tspan font-style="italic">P</tspan> = 2.7 × 10</text>
<text x="2097.3" y="706.8" font-size="16.3" textLength="27.7" lengthAdjust="spacingAndGlyphs">−28</text>
<g stroke="#a8a8a8" stroke-width="2.5" stroke-dasharray="8.5 5" fill="none">
<line x1="1950.3" y1="1062.0" x2="2145.6" y2="698.5"/>
<line x1="1950.3" y1="1081.0" x2="2145.6" y2="793.0"/>
<line x1="1950.3" y1="1090.0" x2="2145.6" y2="821.8"/>
<line x1="1950.3" y1="1091.0" x2="2145.6" y2="856.4"/>
<line x1="1950.3" y1="1086.5" x2="2145.6" y2="873.5"/>
<line x1="1950.3" y1="1078.0" x2="2145.6" y2="879.6"/>
<line x1="1950.3" y1="1080.0" x2="2145.6" y2="886.0"/>
<line x1="1950.3" y1="1088.0" x2="2145.6" y2="894.5"/>
<line x1="1950.3" y1="1089.0" x2="2145.6" y2="943.7"/>
<line x1="1950.3" y1="1084.5" x2="2145.6" y2="956.9"/>
<line x1="1950.3" y1="1077.0" x2="2145.6" y2="965.1"/>
<line x1="1950.3" y1="1076.0" x2="2145.6" y2="984.7"/>
<line x1="1950.3" y1="1079.5" x2="2145.6" y2="991.1"/>
<line x1="1950.3" y1="1074.9" x2="2145.6" y2="793.0" stroke-dashoffset="6.4"/>
<line x1="1950.3" y1="1083.3" x2="2145.6" y2="965.1" stroke-dashoffset="11.4"/>
<line x1="1950.3" y1="1089.2" x2="2145.6" y2="991.1" stroke-dashoffset="11.4"/>
<line x1="1950.3" y1="1085.5" x2="2145.6" y2="984.7" stroke-dashoffset="0.6"/>
<line x1="1950.3" y1="1088.0" x2="2145.6" y2="984.7" stroke-dashoffset="4.7"/>
<line x1="1950.3" y1="1079.9" x2="2145.6" y2="894.5" stroke-dashoffset="5.8"/>
</g>
<clipPath id="gc4"><rect x="1940.3" y="1040" width="20" height="56.8"/></clipPath>
<g clip-path="url(#gc4)">
<ellipse cx="1950.3" cy="1096.5" rx="5.4" ry="4.6" fill="#a0a0a0" stroke="#000" stroke-width="1.6"/>
<ellipse cx="1950.3" cy="1094.5" rx="5.4" ry="4.6" fill="#a0a0a0" stroke="#000" stroke-width="1.6"/>
<ellipse cx="1950.3" cy="1092.0" rx="5.4" ry="4.6" fill="#a0a0a0" stroke="#000" stroke-width="1.6"/>
<ellipse cx="1950.3" cy="1086.0" rx="5.4" ry="4.6" fill="#a0a0a0" stroke="#000" stroke-width="1.6"/>
<ellipse cx="1950.3" cy="1083.5" rx="5.4" ry="4.6" fill="#a0a0a0" stroke="#000" stroke-width="1.6"/>
<ellipse cx="1950.3" cy="1078.7" rx="5.4" ry="4.6" fill="#a0a0a0" stroke="#000" stroke-width="1.6"/>
<ellipse cx="1950.3" cy="1062.0" rx="5.4" ry="4.6" fill="#a0a0a0" stroke="#000" stroke-width="1.6"/>
</g>
<ellipse cx="2145.6" cy="698.5" rx="5.65" ry="4.85" fill="#65b0fb" stroke="#000" stroke-width="1.6"/>
<ellipse cx="2145.6" cy="793.0" rx="5.65" ry="4.85" fill="#65b0fb" stroke="#000" stroke-width="1.6"/>
<ellipse cx="2145.6" cy="821.8" rx="5.65" ry="4.85" fill="#65b0fb" stroke="#000" stroke-width="1.6"/>
<ellipse cx="2145.6" cy="856.4" rx="5.65" ry="4.85" fill="#65b0fb" stroke="#000" stroke-width="1.6"/>
<ellipse cx="2145.6" cy="873.5" rx="5.65" ry="4.85" fill="#65b0fb" stroke="#000" stroke-width="1.6"/>
<ellipse cx="2145.6" cy="879.6" rx="5.65" ry="4.85" fill="#65b0fb" stroke="#000" stroke-width="1.6"/>
<ellipse cx="2145.6" cy="886.0" rx="5.65" ry="4.85" fill="#65b0fb" stroke="#000" stroke-width="1.6"/>
<ellipse cx="2145.6" cy="894.5" rx="5.65" ry="4.85" fill="#65b0fb" stroke="#000" stroke-width="1.6"/>
<ellipse cx="2145.6" cy="943.7" rx="5.65" ry="4.85" fill="#65b0fb" stroke="#000" stroke-width="1.6"/>
<ellipse cx="2145.6" cy="956.9" rx="5.65" ry="4.85" fill="#65b0fb" stroke="#000" stroke-width="1.6"/>
<ellipse cx="2145.6" cy="965.1" rx="5.65" ry="4.85" fill="#65b0fb" stroke="#000" stroke-width="1.6"/>
<ellipse cx="2145.6" cy="984.7" rx="5.65" ry="4.85" fill="#65b0fb" stroke="#000" stroke-width="1.6"/>
<ellipse cx="2145.6" cy="991.1" rx="5.65" ry="4.85" fill="#65b0fb" stroke="#000" stroke-width="1.6"/>
<line x1="1940.2" y1="1115.4" x2="2158.9" y2="1115.4" stroke="#3a3a3a" stroke-width="1.6"/>
<line x1="1951.1" y1="1115.4" x2="1951.1" y2="1125.9" stroke="#3a3a3a" stroke-width="1.6"/>
<line x1="2146.0" y1="1115.4" x2="2146.0" y2="1125.9" stroke="#3a3a3a" stroke-width="1.6"/>
<text x="1945.1" y="1156.5" font-size="26" textLength="14.6" lengthAdjust="spacingAndGlyphs">–</text>
<text x="2146.0" y="1159.0" font-size="26" text-anchor="middle">+</text>
<text x="1933.4" y="1204.5" font-size="26.5" textLength="33.5" lengthAdjust="spacingAndGlyphs">66</text>
<text x="2122.2" y="1204.5" font-size="26.5" textLength="43.7" lengthAdjust="spacingAndGlyphs">187</text>
<text x="791.2" y="1140.0" font-size="26.5" textLength="123.1" lengthAdjust="spacingAndGlyphs">Predicted</text>
<text x="808.0" y="1169.9" font-size="26.5" textLength="91.1" lengthAdjust="spacingAndGlyphs">binder:</text>
<text x="842.5" y="1204.5" font-size="26.5" font-style="italic">N</text>
</svg>
</body></html>
